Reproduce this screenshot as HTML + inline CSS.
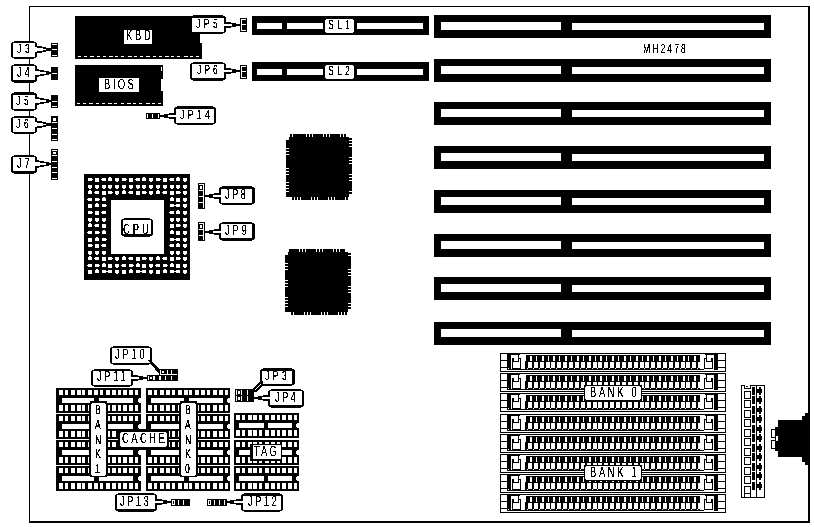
<!DOCTYPE html>
<html><head><meta charset="utf-8"><title>MH2478</title>
<style>
html,body{margin:0;padding:0;background:#fff;}
body{width:814px;height:527px;overflow:hidden;}
svg{display:block;}
text{font-family:"Liberation Sans",sans-serif;text-rendering:geometricPrecision;}
</style></head><body>
<svg width="814" height="527" viewBox="0 0 814 527" shape-rendering="crispEdges">
<defs><filter id="th" x="0" y="0" width="100%" height="100%" filterUnits="userSpaceOnUse" color-interpolation-filters="sRGB"><feComponentTransfer><feFuncA type="discrete" tableValues="0 0 0 0 0 0 0 0 1 1 1 1 1 1 1 1 1 1 1 1"/></feComponentTransfer></filter><filter id="th2" x="0" y="0" width="100%" height="100%" filterUnits="userSpaceOnUse" color-interpolation-filters="sRGB"><feComponentTransfer><feFuncA type="discrete" tableValues="0 0 0 0 0 0 1 1 1 1 1 1 1 1 1 1 1 1 1 1"/></feComponentTransfer></filter></defs>
<rect x="0" y="0" width="814" height="527" fill="#fff"/>
<rect x="29" y="6" width="780" height="1" fill="#000"/>
<rect x="29" y="6" width="1" height="517" fill="#000"/>
<rect x="808" y="6" width="2" height="517" fill="#000"/>
<rect x="29" y="521" width="781" height="2" fill="#000"/>
<rect x="434" y="15" width="337" height="23" fill="#000"/>
<rect x="441" y="22" width="120" height="8" fill="#fff"/>
<rect x="572" y="23" width="192" height="7" fill="#fff"/>
<rect x="434" y="59" width="337" height="23" fill="#000"/>
<rect x="441" y="66" width="120" height="8" fill="#fff"/>
<rect x="572" y="67" width="192" height="7" fill="#fff"/>
<rect x="434" y="102" width="337" height="23" fill="#000"/>
<rect x="441" y="109" width="120" height="8" fill="#fff"/>
<rect x="572" y="110" width="192" height="7" fill="#fff"/>
<rect x="434" y="146" width="337" height="23" fill="#000"/>
<rect x="441" y="153" width="120" height="8" fill="#fff"/>
<rect x="572" y="154" width="192" height="7" fill="#fff"/>
<rect x="434" y="190" width="337" height="23" fill="#000"/>
<rect x="441" y="197" width="120" height="8" fill="#fff"/>
<rect x="572" y="198" width="192" height="7" fill="#fff"/>
<rect x="434" y="234" width="337" height="23" fill="#000"/>
<rect x="441" y="241" width="120" height="8" fill="#fff"/>
<rect x="572" y="242" width="192" height="7" fill="#fff"/>
<rect x="434" y="277" width="337" height="23" fill="#000"/>
<rect x="441" y="284" width="120" height="8" fill="#fff"/>
<rect x="572" y="285" width="192" height="7" fill="#fff"/>
<rect x="434" y="322" width="337" height="23" fill="#000"/>
<rect x="441" y="329" width="120" height="8" fill="#fff"/>
<rect x="572" y="330" width="192" height="7" fill="#fff"/>
<rect x="252" y="16" width="177" height="19" fill="#000"/>
<rect x="257" y="23" width="25" height="6" fill="#fff"/>
<rect x="287" y="23" width="36" height="6" fill="#fff"/>
<rect x="357" y="23" width="66" height="6" fill="#fff"/>
<rect x="326" y="19" width="27" height="14" fill="#fff"/>
<rect x="325" y="20" width="29" height="12" fill="#fff"/>
<rect x="252" y="62" width="177" height="19" fill="#000"/>
<rect x="257" y="69" width="25" height="6" fill="#fff"/>
<rect x="287" y="69" width="36" height="6" fill="#fff"/>
<rect x="357" y="69" width="66" height="6" fill="#fff"/>
<rect x="326" y="65" width="27" height="14" fill="#fff"/>
<rect x="325" y="66" width="29" height="12" fill="#fff"/>
<rect x="75" y="16" width="127" height="43" fill="#000"/>
<rect x="200" y="34" width="2" height="9" fill="#fff"/>
<rect x="78" y="56" width="3" height="1" fill="#fff"/>
<rect x="84" y="56" width="3" height="1" fill="#fff"/>
<rect x="90" y="56" width="4" height="1" fill="#fff"/>
<rect x="97" y="56" width="3" height="1" fill="#fff"/>
<rect x="103" y="56" width="3" height="1" fill="#fff"/>
<rect x="109" y="56" width="4" height="1" fill="#fff"/>
<rect x="115" y="56" width="3" height="1" fill="#fff"/>
<rect x="121" y="56" width="3" height="1" fill="#fff"/>
<rect x="128" y="56" width="4" height="1" fill="#fff"/>
<rect x="134" y="56" width="3" height="1" fill="#fff"/>
<rect x="140" y="56" width="3" height="1" fill="#fff"/>
<rect x="146" y="56" width="4" height="1" fill="#fff"/>
<rect x="153" y="56" width="3" height="1" fill="#fff"/>
<rect x="159" y="56" width="3" height="1" fill="#fff"/>
<rect x="165" y="56" width="4" height="1" fill="#fff"/>
<rect x="171" y="56" width="3" height="1" fill="#fff"/>
<rect x="177" y="56" width="3" height="1" fill="#fff"/>
<rect x="184" y="56" width="4" height="1" fill="#fff"/>
<rect x="190" y="56" width="3" height="1" fill="#fff"/>
<rect x="196" y="56" width="3" height="1" fill="#fff"/>
<rect x="124" y="30" width="28" height="14" fill="#fff"/>
<rect x="75" y="65" width="88" height="41" fill="#000"/>
<rect x="161" y="79" width="2" height="12" fill="#fff"/>
<rect x="161" y="67" width="1" height="4" fill="#fff"/>
<rect x="77" y="103" width="3" height="1" fill="#fff"/>
<rect x="83" y="103" width="3" height="1" fill="#fff"/>
<rect x="89" y="103" width="4" height="1" fill="#fff"/>
<rect x="96" y="103" width="3" height="1" fill="#fff"/>
<rect x="102" y="103" width="3" height="1" fill="#fff"/>
<rect x="108" y="103" width="4" height="1" fill="#fff"/>
<rect x="114" y="103" width="3" height="1" fill="#fff"/>
<rect x="121" y="103" width="3" height="1" fill="#fff"/>
<rect x="127" y="103" width="4" height="1" fill="#fff"/>
<rect x="133" y="103" width="3" height="1" fill="#fff"/>
<rect x="139" y="103" width="3" height="1" fill="#fff"/>
<rect x="146" y="103" width="4" height="1" fill="#fff"/>
<rect x="152" y="103" width="3" height="1" fill="#fff"/>
<rect x="158" y="103" width="3" height="1" fill="#fff"/>
<rect x="99" y="78" width="40" height="14" fill="#fff"/>
<rect x="14" y="41" width="20" height="1" fill="#000"/>
<rect x="12" y="42" width="24" height="1" fill="#000"/>
<rect x="11" y="43" width="26" height="14" fill="#000"/>
<rect x="12" y="57" width="24" height="1" fill="#000"/>
<rect x="14" y="58" width="20" height="1" fill="#000"/>
<rect x="13" y="43" width="22" height="14" fill="#fff"/>
<polygon points="35,45 44,47.025 51,48.5 51,50.5 44,51.975 35,54" fill="#000"/>
<polygon points="34,47 41.2,48.25 46.1,49 46.1,50 41.2,50.75 34,52" fill="#fff"/>
<rect x="14" y="64" width="20" height="1" fill="#000"/>
<rect x="12" y="65" width="24" height="1" fill="#000"/>
<rect x="11" y="66" width="26" height="15" fill="#000"/>
<rect x="12" y="81" width="24" height="1" fill="#000"/>
<rect x="14" y="82" width="20" height="1" fill="#000"/>
<rect x="13" y="66" width="22" height="14" fill="#fff"/>
<polygon points="35,68.5 44,70.525 51,72 51,74 44,75.475 35,77.5" fill="#000"/>
<polygon points="34,70.5 41.2,71.75 46.1,72.5 46.1,73.5 41.2,74.25 34,75.5" fill="#fff"/>
<rect x="14" y="92" width="20" height="1" fill="#000"/>
<rect x="12" y="93" width="24" height="1" fill="#000"/>
<rect x="11" y="94" width="26" height="15" fill="#000"/>
<rect x="12" y="109" width="24" height="1" fill="#000"/>
<rect x="14" y="110" width="20" height="1" fill="#000"/>
<rect x="13" y="95" width="22" height="14" fill="#fff"/>
<polygon points="35,96.5 44,98.525 51,100 51,102 44,103.475 35,105.5" fill="#000"/>
<polygon points="34,98.5 41.2,99.75 46.1,100.5 46.1,101.5 41.2,102.25 34,103.5" fill="#fff"/>
<rect x="14" y="116" width="20" height="1" fill="#000"/>
<rect x="12" y="117" width="24" height="1" fill="#000"/>
<rect x="11" y="118" width="26" height="14" fill="#000"/>
<rect x="12" y="132" width="24" height="1" fill="#000"/>
<rect x="14" y="133" width="20" height="1" fill="#000"/>
<rect x="13" y="118" width="22" height="14" fill="#fff"/>
<polygon points="35,120 44,122.025 51,123.5 51,125.5 44,126.975 35,129" fill="#000"/>
<polygon points="34,122 41.2,123.25 46.1,124 46.1,125 41.2,125.75 34,127" fill="#fff"/>
<rect x="14" y="155" width="20" height="1" fill="#000"/>
<rect x="12" y="156" width="24" height="1" fill="#000"/>
<rect x="11" y="157" width="26" height="15" fill="#000"/>
<rect x="12" y="172" width="24" height="1" fill="#000"/>
<rect x="14" y="173" width="20" height="1" fill="#000"/>
<rect x="13" y="157" width="22" height="14" fill="#fff"/>
<polygon points="35,159.5 44,161.525 51,163 51,165 44,166.475 35,168.5" fill="#000"/>
<polygon points="34,161.5 41.2,162.75 46.1,163.5 46.1,164.5 41.2,165.25 34,166.5" fill="#fff"/>
<rect x="51" y="43" width="7" height="14" fill="#000"/>
<rect x="52" y="44" width="5" height="1" fill="#fff"/>
<rect x="52" y="49" width="5" height="1" fill="#fff"/>
<rect x="52" y="55" width="5" height="1" fill="#fff"/>
<rect x="51" y="67" width="7" height="13" fill="#000"/>
<rect x="52" y="73" width="5" height="1" fill="#fff"/>
<rect x="51" y="95" width="7" height="13" fill="#000"/>
<rect x="52" y="101" width="5" height="1" fill="#fff"/>
<rect x="52" y="106" width="5" height="1" fill="#fff"/>
<rect x="51" y="116" width="7" height="25" fill="#000"/>
<rect x="53" y="118" width="3" height="3" fill="#fff"/>
<rect x="52" y="122" width="5" height="1" fill="#fff"/>
<rect x="52" y="128" width="5" height="1" fill="#fff"/>
<rect x="52" y="134" width="5" height="1" fill="#fff"/>
<rect x="52" y="139" width="5" height="1" fill="#fff"/>
<rect x="51" y="149" width="7" height="31" fill="#000"/>
<rect x="52" y="150" width="5" height="1" fill="#fff"/>
<rect x="53" y="152" width="3" height="2" fill="#fff"/>
<rect x="52" y="155" width="5" height="1" fill="#fff"/>
<rect x="52" y="161" width="5" height="1" fill="#fff"/>
<rect x="52" y="167" width="5" height="1" fill="#fff"/>
<rect x="52" y="172" width="5" height="1" fill="#fff"/>
<rect x="52" y="178" width="5" height="1" fill="#fff"/>
<rect x="193" y="15" width="30" height="1" fill="#000"/>
<rect x="191" y="16" width="34" height="1" fill="#000"/>
<rect x="190" y="17" width="36" height="15" fill="#000"/>
<rect x="191" y="32" width="34" height="1" fill="#000"/>
<rect x="193" y="33" width="30" height="1" fill="#000"/>
<rect x="192" y="18" width="32" height="14" fill="#fff"/>
<polygon points="224,22 230.2,22 231.6,23 235.8,23 236.5,24 240,24 240,26 236.5,26 235.8,27 231.6,27 230.2,28 224,28" fill="#000"/>
<polygon points="223,24 232.3,24 232.3,26 223,26" fill="#fff"/>
<rect x="240" y="18" width="7" height="14" fill="#000"/>
<rect x="241" y="19" width="1" height="12" fill="#fff"/>
<rect x="241" y="19" width="5" height="1" fill="#fff"/>
<rect x="241" y="24" width="5" height="1" fill="#fff"/>
<rect x="241" y="30" width="5" height="1" fill="#fff"/>
<rect x="193" y="62" width="30" height="1" fill="#000"/>
<rect x="191" y="63" width="34" height="1" fill="#000"/>
<rect x="190" y="64" width="36" height="15" fill="#000"/>
<rect x="191" y="79" width="34" height="1" fill="#000"/>
<rect x="193" y="80" width="30" height="1" fill="#000"/>
<rect x="192" y="64" width="32" height="14" fill="#fff"/>
<polygon points="224,68 230.2,68 231.6,69 235.8,69 236.5,70 240,70 240,72 236.5,72 235.8,73 231.6,73 230.2,74 224,74" fill="#000"/>
<polygon points="223,70 232.3,70 232.3,72 223,72" fill="#fff"/>
<rect x="240" y="65" width="7" height="14" fill="#000"/>
<rect x="241" y="66" width="1" height="12" fill="#fff"/>
<rect x="241" y="66" width="5" height="1" fill="#fff"/>
<rect x="241" y="71" width="5" height="1" fill="#fff"/>
<rect x="241" y="77" width="5" height="1" fill="#fff"/>
<rect x="177" y="106" width="36" height="1" fill="#000"/>
<rect x="175" y="107" width="40" height="1" fill="#000"/>
<rect x="174" y="108" width="42" height="15" fill="#000"/>
<rect x="175" y="123" width="40" height="1" fill="#000"/>
<rect x="177" y="124" width="36" height="1" fill="#000"/>
<rect x="176" y="109" width="38" height="14" fill="#fff"/>
<polygon points="176,113 169.8,113 168.4,114 164.2,114 163.5,115 160,115 160,117 163.5,117 164.2,118 168.4,118 169.8,119 176,119" fill="#000"/>
<polygon points="177,115 167.7,115 167.7,117 177,117" fill="#fff"/>
<rect x="146" y="113" width="14" height="6" fill="#000"/>
<rect x="147" y="114" width="1" height="4" fill="#fff"/>
<rect x="152" y="114" width="1" height="4" fill="#fff"/>
<rect x="158" y="114" width="1" height="4" fill="#fff"/>
<rect x="84" y="174" width="106" height="106" fill="#000"/>
<rect x="111" y="200" width="53" height="54" fill="#fff"/>
<rect x="88" y="178" width="4" height="3" fill="#fff"/>
<rect x="92" y="179" width="1" height="1" fill="#fff"/>
<rect x="88" y="185" width="4" height="3" fill="#fff"/>
<rect x="89" y="188" width="2" height="1" fill="#fff"/>
<rect x="88" y="191" width="4" height="3" fill="#fff"/>
<rect x="89" y="190" width="2" height="1" fill="#fff"/>
<rect x="88" y="198" width="4" height="3" fill="#fff"/>
<rect x="87" y="199" width="1" height="1" fill="#fff"/>
<rect x="88" y="204" width="4" height="4" fill="#fff"/>
<rect x="88" y="211" width="4" height="3" fill="#fff"/>
<rect x="92" y="212" width="1" height="1" fill="#fff"/>
<rect x="88" y="218" width="4" height="3" fill="#fff"/>
<rect x="89" y="221" width="2" height="1" fill="#fff"/>
<rect x="88" y="224" width="4" height="3" fill="#fff"/>
<rect x="89" y="223" width="2" height="1" fill="#fff"/>
<rect x="88" y="231" width="4" height="3" fill="#fff"/>
<rect x="87" y="232" width="1" height="1" fill="#fff"/>
<rect x="88" y="238" width="4" height="4" fill="#fff"/>
<rect x="88" y="244" width="4" height="3" fill="#fff"/>
<rect x="92" y="245" width="1" height="1" fill="#fff"/>
<rect x="88" y="251" width="4" height="3" fill="#fff"/>
<rect x="89" y="254" width="2" height="1" fill="#fff"/>
<rect x="88" y="257" width="4" height="3" fill="#fff"/>
<rect x="89" y="256" width="2" height="1" fill="#fff"/>
<rect x="88" y="264" width="4" height="3" fill="#fff"/>
<rect x="87" y="265" width="1" height="1" fill="#fff"/>
<rect x="88" y="270" width="4" height="4" fill="#fff"/>
<rect x="95" y="178" width="4" height="4" fill="#fff"/>
<rect x="95" y="185" width="4" height="3" fill="#fff"/>
<rect x="96" y="188" width="2" height="1" fill="#fff"/>
<rect x="95" y="191" width="4" height="3" fill="#fff"/>
<rect x="94" y="192" width="1" height="1" fill="#fff"/>
<rect x="95" y="198" width="4" height="3" fill="#fff"/>
<rect x="99" y="199" width="1" height="1" fill="#fff"/>
<rect x="95" y="204" width="4" height="3" fill="#fff"/>
<rect x="96" y="203" width="2" height="1" fill="#fff"/>
<rect x="95" y="211" width="4" height="4" fill="#fff"/>
<rect x="95" y="218" width="4" height="3" fill="#fff"/>
<rect x="96" y="221" width="2" height="1" fill="#fff"/>
<rect x="95" y="224" width="4" height="3" fill="#fff"/>
<rect x="94" y="225" width="1" height="1" fill="#fff"/>
<rect x="95" y="231" width="4" height="3" fill="#fff"/>
<rect x="99" y="232" width="1" height="1" fill="#fff"/>
<rect x="95" y="238" width="4" height="3" fill="#fff"/>
<rect x="96" y="237" width="2" height="1" fill="#fff"/>
<rect x="95" y="244" width="4" height="4" fill="#fff"/>
<rect x="95" y="251" width="4" height="3" fill="#fff"/>
<rect x="96" y="254" width="2" height="1" fill="#fff"/>
<rect x="95" y="257" width="4" height="3" fill="#fff"/>
<rect x="94" y="258" width="1" height="1" fill="#fff"/>
<rect x="95" y="264" width="4" height="3" fill="#fff"/>
<rect x="99" y="265" width="1" height="1" fill="#fff"/>
<rect x="95" y="270" width="4" height="3" fill="#fff"/>
<rect x="96" y="269" width="2" height="1" fill="#fff"/>
<rect x="102" y="178" width="4" height="3" fill="#fff"/>
<rect x="101" y="179" width="1" height="1" fill="#fff"/>
<rect x="102" y="185" width="4" height="3" fill="#fff"/>
<rect x="103" y="188" width="2" height="1" fill="#fff"/>
<rect x="102" y="191" width="4" height="4" fill="#fff"/>
<rect x="102" y="198" width="4" height="3" fill="#fff"/>
<rect x="103" y="197" width="2" height="1" fill="#fff"/>
<rect x="102" y="204" width="4" height="3" fill="#fff"/>
<rect x="106" y="205" width="1" height="1" fill="#fff"/>
<rect x="102" y="211" width="4" height="3" fill="#fff"/>
<rect x="101" y="212" width="1" height="1" fill="#fff"/>
<rect x="102" y="218" width="4" height="3" fill="#fff"/>
<rect x="103" y="221" width="2" height="1" fill="#fff"/>
<rect x="102" y="224" width="4" height="4" fill="#fff"/>
<rect x="102" y="231" width="4" height="3" fill="#fff"/>
<rect x="103" y="230" width="2" height="1" fill="#fff"/>
<rect x="102" y="238" width="4" height="3" fill="#fff"/>
<rect x="106" y="239" width="1" height="1" fill="#fff"/>
<rect x="102" y="244" width="4" height="3" fill="#fff"/>
<rect x="101" y="245" width="1" height="1" fill="#fff"/>
<rect x="102" y="251" width="4" height="3" fill="#fff"/>
<rect x="103" y="254" width="2" height="1" fill="#fff"/>
<rect x="102" y="257" width="4" height="4" fill="#fff"/>
<rect x="102" y="264" width="4" height="3" fill="#fff"/>
<rect x="103" y="263" width="2" height="1" fill="#fff"/>
<rect x="102" y="270" width="4" height="3" fill="#fff"/>
<rect x="106" y="271" width="1" height="1" fill="#fff"/>
<rect x="108" y="178" width="4" height="3" fill="#fff"/>
<rect x="109" y="177" width="2" height="1" fill="#fff"/>
<rect x="108" y="185" width="4" height="3" fill="#fff"/>
<rect x="109" y="188" width="2" height="1" fill="#fff"/>
<rect x="108" y="191" width="4" height="3" fill="#fff"/>
<rect x="112" y="192" width="1" height="1" fill="#fff"/>
<rect x="108" y="257" width="4" height="3" fill="#fff"/>
<rect x="112" y="258" width="1" height="1" fill="#fff"/>
<rect x="108" y="264" width="4" height="4" fill="#fff"/>
<rect x="108" y="270" width="4" height="3" fill="#fff"/>
<rect x="107" y="271" width="1" height="1" fill="#fff"/>
<rect x="115" y="178" width="4" height="3" fill="#fff"/>
<rect x="116" y="181" width="2" height="1" fill="#fff"/>
<rect x="115" y="185" width="4" height="3" fill="#fff"/>
<rect x="116" y="188" width="2" height="1" fill="#fff"/>
<rect x="115" y="191" width="4" height="3" fill="#fff"/>
<rect x="116" y="194" width="2" height="1" fill="#fff"/>
<rect x="115" y="257" width="4" height="3" fill="#fff"/>
<rect x="116" y="260" width="2" height="1" fill="#fff"/>
<rect x="115" y="264" width="4" height="3" fill="#fff"/>
<rect x="116" y="267" width="2" height="1" fill="#fff"/>
<rect x="115" y="270" width="4" height="3" fill="#fff"/>
<rect x="116" y="273" width="2" height="1" fill="#fff"/>
<rect x="122" y="178" width="4" height="3" fill="#fff"/>
<rect x="126" y="179" width="1" height="1" fill="#fff"/>
<rect x="122" y="185" width="4" height="3" fill="#fff"/>
<rect x="123" y="188" width="2" height="1" fill="#fff"/>
<rect x="122" y="191" width="4" height="3" fill="#fff"/>
<rect x="123" y="190" width="2" height="1" fill="#fff"/>
<rect x="122" y="257" width="4" height="3" fill="#fff"/>
<rect x="123" y="256" width="2" height="1" fill="#fff"/>
<rect x="122" y="264" width="4" height="3" fill="#fff"/>
<rect x="121" y="265" width="1" height="1" fill="#fff"/>
<rect x="122" y="270" width="4" height="4" fill="#fff"/>
<rect x="129" y="178" width="4" height="4" fill="#fff"/>
<rect x="129" y="185" width="4" height="3" fill="#fff"/>
<rect x="130" y="188" width="2" height="1" fill="#fff"/>
<rect x="129" y="191" width="4" height="3" fill="#fff"/>
<rect x="128" y="192" width="1" height="1" fill="#fff"/>
<rect x="129" y="257" width="4" height="3" fill="#fff"/>
<rect x="128" y="258" width="1" height="1" fill="#fff"/>
<rect x="129" y="264" width="4" height="3" fill="#fff"/>
<rect x="133" y="265" width="1" height="1" fill="#fff"/>
<rect x="129" y="270" width="4" height="3" fill="#fff"/>
<rect x="130" y="269" width="2" height="1" fill="#fff"/>
<rect x="136" y="178" width="4" height="3" fill="#fff"/>
<rect x="135" y="179" width="1" height="1" fill="#fff"/>
<rect x="136" y="185" width="4" height="3" fill="#fff"/>
<rect x="137" y="188" width="2" height="1" fill="#fff"/>
<rect x="136" y="191" width="4" height="4" fill="#fff"/>
<rect x="136" y="257" width="4" height="4" fill="#fff"/>
<rect x="136" y="264" width="4" height="3" fill="#fff"/>
<rect x="137" y="263" width="2" height="1" fill="#fff"/>
<rect x="136" y="270" width="4" height="3" fill="#fff"/>
<rect x="140" y="271" width="1" height="1" fill="#fff"/>
<rect x="142" y="178" width="4" height="3" fill="#fff"/>
<rect x="143" y="177" width="2" height="1" fill="#fff"/>
<rect x="142" y="185" width="4" height="3" fill="#fff"/>
<rect x="143" y="188" width="2" height="1" fill="#fff"/>
<rect x="142" y="191" width="4" height="3" fill="#fff"/>
<rect x="146" y="192" width="1" height="1" fill="#fff"/>
<rect x="142" y="257" width="4" height="3" fill="#fff"/>
<rect x="146" y="258" width="1" height="1" fill="#fff"/>
<rect x="142" y="264" width="4" height="4" fill="#fff"/>
<rect x="142" y="270" width="4" height="3" fill="#fff"/>
<rect x="141" y="271" width="1" height="1" fill="#fff"/>
<rect x="149" y="178" width="4" height="3" fill="#fff"/>
<rect x="150" y="181" width="2" height="1" fill="#fff"/>
<rect x="149" y="185" width="4" height="3" fill="#fff"/>
<rect x="150" y="188" width="2" height="1" fill="#fff"/>
<rect x="149" y="191" width="4" height="3" fill="#fff"/>
<rect x="150" y="194" width="2" height="1" fill="#fff"/>
<rect x="149" y="257" width="4" height="3" fill="#fff"/>
<rect x="150" y="260" width="2" height="1" fill="#fff"/>
<rect x="149" y="264" width="4" height="3" fill="#fff"/>
<rect x="150" y="267" width="2" height="1" fill="#fff"/>
<rect x="149" y="270" width="4" height="3" fill="#fff"/>
<rect x="150" y="273" width="2" height="1" fill="#fff"/>
<rect x="156" y="178" width="4" height="3" fill="#fff"/>
<rect x="160" y="179" width="1" height="1" fill="#fff"/>
<rect x="156" y="185" width="4" height="3" fill="#fff"/>
<rect x="157" y="188" width="2" height="1" fill="#fff"/>
<rect x="156" y="191" width="4" height="3" fill="#fff"/>
<rect x="157" y="190" width="2" height="1" fill="#fff"/>
<rect x="156" y="257" width="4" height="3" fill="#fff"/>
<rect x="157" y="256" width="2" height="1" fill="#fff"/>
<rect x="156" y="264" width="4" height="3" fill="#fff"/>
<rect x="155" y="265" width="1" height="1" fill="#fff"/>
<rect x="156" y="270" width="4" height="4" fill="#fff"/>
<rect x="163" y="178" width="4" height="4" fill="#fff"/>
<rect x="163" y="185" width="4" height="3" fill="#fff"/>
<rect x="164" y="188" width="2" height="1" fill="#fff"/>
<rect x="163" y="191" width="4" height="3" fill="#fff"/>
<rect x="162" y="192" width="1" height="1" fill="#fff"/>
<rect x="163" y="257" width="4" height="3" fill="#fff"/>
<rect x="162" y="258" width="1" height="1" fill="#fff"/>
<rect x="163" y="264" width="4" height="3" fill="#fff"/>
<rect x="167" y="265" width="1" height="1" fill="#fff"/>
<rect x="163" y="270" width="4" height="3" fill="#fff"/>
<rect x="164" y="269" width="2" height="1" fill="#fff"/>
<rect x="170" y="178" width="4" height="3" fill="#fff"/>
<rect x="169" y="179" width="1" height="1" fill="#fff"/>
<rect x="170" y="185" width="4" height="3" fill="#fff"/>
<rect x="171" y="188" width="2" height="1" fill="#fff"/>
<rect x="170" y="191" width="4" height="4" fill="#fff"/>
<rect x="170" y="198" width="4" height="3" fill="#fff"/>
<rect x="171" y="197" width="2" height="1" fill="#fff"/>
<rect x="170" y="204" width="4" height="3" fill="#fff"/>
<rect x="174" y="205" width="1" height="1" fill="#fff"/>
<rect x="170" y="211" width="4" height="3" fill="#fff"/>
<rect x="169" y="212" width="1" height="1" fill="#fff"/>
<rect x="170" y="218" width="4" height="3" fill="#fff"/>
<rect x="171" y="221" width="2" height="1" fill="#fff"/>
<rect x="170" y="224" width="4" height="4" fill="#fff"/>
<rect x="170" y="231" width="4" height="3" fill="#fff"/>
<rect x="171" y="230" width="2" height="1" fill="#fff"/>
<rect x="170" y="238" width="4" height="3" fill="#fff"/>
<rect x="174" y="239" width="1" height="1" fill="#fff"/>
<rect x="170" y="244" width="4" height="3" fill="#fff"/>
<rect x="169" y="245" width="1" height="1" fill="#fff"/>
<rect x="170" y="251" width="4" height="3" fill="#fff"/>
<rect x="171" y="254" width="2" height="1" fill="#fff"/>
<rect x="170" y="257" width="4" height="4" fill="#fff"/>
<rect x="170" y="264" width="4" height="3" fill="#fff"/>
<rect x="171" y="263" width="2" height="1" fill="#fff"/>
<rect x="170" y="270" width="4" height="3" fill="#fff"/>
<rect x="174" y="271" width="1" height="1" fill="#fff"/>
<rect x="176" y="178" width="4" height="3" fill="#fff"/>
<rect x="177" y="177" width="2" height="1" fill="#fff"/>
<rect x="176" y="185" width="4" height="3" fill="#fff"/>
<rect x="177" y="188" width="2" height="1" fill="#fff"/>
<rect x="176" y="191" width="4" height="3" fill="#fff"/>
<rect x="180" y="192" width="1" height="1" fill="#fff"/>
<rect x="176" y="198" width="4" height="4" fill="#fff"/>
<rect x="176" y="204" width="4" height="3" fill="#fff"/>
<rect x="175" y="205" width="1" height="1" fill="#fff"/>
<rect x="176" y="211" width="4" height="3" fill="#fff"/>
<rect x="177" y="210" width="2" height="1" fill="#fff"/>
<rect x="176" y="218" width="4" height="3" fill="#fff"/>
<rect x="177" y="221" width="2" height="1" fill="#fff"/>
<rect x="176" y="224" width="4" height="3" fill="#fff"/>
<rect x="180" y="225" width="1" height="1" fill="#fff"/>
<rect x="176" y="231" width="4" height="4" fill="#fff"/>
<rect x="176" y="238" width="4" height="3" fill="#fff"/>
<rect x="175" y="239" width="1" height="1" fill="#fff"/>
<rect x="176" y="244" width="4" height="3" fill="#fff"/>
<rect x="177" y="243" width="2" height="1" fill="#fff"/>
<rect x="176" y="251" width="4" height="3" fill="#fff"/>
<rect x="177" y="254" width="2" height="1" fill="#fff"/>
<rect x="176" y="257" width="4" height="3" fill="#fff"/>
<rect x="180" y="258" width="1" height="1" fill="#fff"/>
<rect x="176" y="264" width="4" height="4" fill="#fff"/>
<rect x="176" y="270" width="4" height="3" fill="#fff"/>
<rect x="175" y="271" width="1" height="1" fill="#fff"/>
<rect x="183" y="178" width="4" height="3" fill="#fff"/>
<rect x="184" y="181" width="2" height="1" fill="#fff"/>
<rect x="183" y="185" width="4" height="3" fill="#fff"/>
<rect x="184" y="188" width="2" height="1" fill="#fff"/>
<rect x="183" y="191" width="4" height="3" fill="#fff"/>
<rect x="184" y="194" width="2" height="1" fill="#fff"/>
<rect x="183" y="198" width="4" height="3" fill="#fff"/>
<rect x="184" y="201" width="2" height="1" fill="#fff"/>
<rect x="183" y="204" width="4" height="3" fill="#fff"/>
<rect x="184" y="207" width="2" height="1" fill="#fff"/>
<rect x="183" y="211" width="4" height="3" fill="#fff"/>
<rect x="184" y="214" width="2" height="1" fill="#fff"/>
<rect x="183" y="218" width="4" height="3" fill="#fff"/>
<rect x="184" y="221" width="2" height="1" fill="#fff"/>
<rect x="183" y="224" width="4" height="3" fill="#fff"/>
<rect x="184" y="227" width="2" height="1" fill="#fff"/>
<rect x="183" y="231" width="4" height="3" fill="#fff"/>
<rect x="184" y="234" width="2" height="1" fill="#fff"/>
<rect x="183" y="238" width="4" height="3" fill="#fff"/>
<rect x="184" y="241" width="2" height="1" fill="#fff"/>
<rect x="183" y="244" width="4" height="3" fill="#fff"/>
<rect x="184" y="247" width="2" height="1" fill="#fff"/>
<rect x="183" y="251" width="4" height="3" fill="#fff"/>
<rect x="184" y="254" width="2" height="1" fill="#fff"/>
<rect x="183" y="257" width="4" height="3" fill="#fff"/>
<rect x="184" y="260" width="2" height="1" fill="#fff"/>
<rect x="183" y="264" width="4" height="3" fill="#fff"/>
<rect x="184" y="267" width="2" height="1" fill="#fff"/>
<rect x="183" y="270" width="4" height="3" fill="#fff"/>
<rect x="184" y="273" width="2" height="1" fill="#fff"/>
<rect x="124" y="218" width="26" height="1" fill="#000"/>
<rect x="122" y="219" width="30" height="1" fill="#000"/>
<rect x="121" y="220" width="32" height="15" fill="#000"/>
<rect x="122" y="235" width="30" height="1" fill="#000"/>
<rect x="124" y="236" width="26" height="1" fill="#000"/>
<rect x="123" y="220" width="28" height="14" fill="#fff"/>
<rect x="198" y="183" width="7" height="26" fill="#000"/>
<rect x="199" y="184" width="5" height="24" fill="#fff"/>
<rect x="199" y="185" width="4" height="5" fill="#000"/>
<rect x="200" y="186" width="2" height="3" fill="#fff"/>
<rect x="199" y="191" width="4" height="5" fill="#000"/>
<rect x="199" y="197" width="4" height="5" fill="#000"/>
<rect x="199" y="203" width="4" height="5" fill="#000"/>
<rect x="222" y="186" width="30" height="1" fill="#000"/>
<rect x="220" y="187" width="34" height="1" fill="#000"/>
<rect x="219" y="188" width="36" height="15" fill="#000"/>
<rect x="220" y="203" width="34" height="1" fill="#000"/>
<rect x="222" y="204" width="30" height="1" fill="#000"/>
<rect x="221" y="189" width="31" height="14" fill="#fff"/>
<polygon points="221,193 214.8,193 213.4,194 209.2,194 208.5,195 205,195 205,197 208.5,197 209.2,198 213.4,198 214.8,199 221,199" fill="#000"/>
<polygon points="222,195 212.7,195 212.7,197 222,197" fill="#fff"/>
<rect x="198" y="222" width="7" height="19" fill="#000"/>
<rect x="199" y="223" width="5" height="17" fill="#fff"/>
<rect x="199" y="224" width="4" height="5" fill="#000"/>
<rect x="200" y="225" width="2" height="3" fill="#fff"/>
<rect x="199" y="230" width="4" height="5" fill="#000"/>
<rect x="199" y="236" width="4" height="5" fill="#000"/>
<rect x="222" y="222" width="30" height="1" fill="#000"/>
<rect x="220" y="223" width="34" height="1" fill="#000"/>
<rect x="219" y="224" width="36" height="15" fill="#000"/>
<rect x="220" y="239" width="34" height="1" fill="#000"/>
<rect x="222" y="240" width="30" height="1" fill="#000"/>
<rect x="221" y="224" width="31" height="14" fill="#fff"/>
<polygon points="221,229 214.8,229 213.4,230 209.2,230 208.5,231 205,231 205,233 208.5,233 209.2,234 213.4,234 214.8,235 221,235" fill="#000"/>
<polygon points="222,231 212.7,231 212.7,233 222,233" fill="#fff"/>
<rect x="290" y="134" width="56" height="3" fill="#000"/>
<rect x="289" y="137" width="60" height="1" fill="#000"/>
<rect x="289" y="138" width="63" height="2" fill="#000"/>
<rect x="286" y="140" width="66" height="54" fill="#000"/>
<rect x="286" y="194" width="63" height="3" fill="#000"/>
<rect x="292" y="197" width="56" height="3" fill="#000"/>
<rect x="292" y="134" width="1" height="3" fill="#fff"/>
<rect x="306" y="134" width="1" height="3" fill="#fff"/>
<rect x="309" y="134" width="1" height="3" fill="#fff"/>
<rect x="312" y="134" width="1" height="3" fill="#fff"/>
<rect x="323" y="134" width="1" height="3" fill="#fff"/>
<rect x="326" y="134" width="1" height="3" fill="#fff"/>
<rect x="329" y="134" width="1" height="3" fill="#fff"/>
<rect x="340" y="134" width="1" height="3" fill="#fff"/>
<rect x="343" y="134" width="1" height="3" fill="#fff"/>
<rect x="294" y="197" width="1" height="3" fill="#fff"/>
<rect x="297" y="197" width="1" height="3" fill="#fff"/>
<rect x="300" y="197" width="1" height="3" fill="#fff"/>
<rect x="311" y="197" width="1" height="3" fill="#fff"/>
<rect x="314" y="197" width="1" height="3" fill="#fff"/>
<rect x="317" y="197" width="1" height="3" fill="#fff"/>
<rect x="328" y="197" width="1" height="3" fill="#fff"/>
<rect x="331" y="197" width="1" height="3" fill="#fff"/>
<rect x="334" y="197" width="1" height="3" fill="#fff"/>
<rect x="345" y="197" width="1" height="3" fill="#fff"/>
<rect x="286" y="148" width="3" height="1" fill="#fff"/>
<rect x="286" y="151" width="3" height="1" fill="#fff"/>
<rect x="286" y="154" width="3" height="1" fill="#fff"/>
<rect x="286" y="168" width="3" height="1" fill="#fff"/>
<rect x="286" y="171" width="3" height="1" fill="#fff"/>
<rect x="286" y="174" width="3" height="1" fill="#fff"/>
<rect x="286" y="182" width="3" height="1" fill="#fff"/>
<rect x="286" y="185" width="3" height="1" fill="#fff"/>
<rect x="286" y="188" width="3" height="1" fill="#fff"/>
<rect x="286" y="191" width="3" height="1" fill="#fff"/>
<rect x="349" y="140" width="3" height="1" fill="#fff"/>
<rect x="349" y="143" width="3" height="1" fill="#fff"/>
<rect x="349" y="146" width="3" height="1" fill="#fff"/>
<rect x="349" y="157" width="3" height="1" fill="#fff"/>
<rect x="349" y="160" width="3" height="1" fill="#fff"/>
<rect x="349" y="163" width="3" height="1" fill="#fff"/>
<rect x="349" y="174" width="3" height="1" fill="#fff"/>
<rect x="349" y="177" width="3" height="1" fill="#fff"/>
<rect x="349" y="180" width="3" height="1" fill="#fff"/>
<rect x="349" y="191" width="3" height="1" fill="#fff"/>
<rect x="289" y="249" width="56" height="3" fill="#000"/>
<rect x="288" y="252" width="60" height="1" fill="#000"/>
<rect x="288" y="253" width="63" height="2" fill="#000"/>
<rect x="285" y="255" width="66" height="54" fill="#000"/>
<rect x="285" y="309" width="63" height="3" fill="#000"/>
<rect x="291" y="312" width="56" height="3" fill="#000"/>
<rect x="299" y="249" width="1" height="3" fill="#fff"/>
<rect x="302" y="249" width="1" height="3" fill="#fff"/>
<rect x="305" y="249" width="1" height="3" fill="#fff"/>
<rect x="316" y="249" width="1" height="3" fill="#fff"/>
<rect x="319" y="249" width="1" height="3" fill="#fff"/>
<rect x="322" y="249" width="1" height="3" fill="#fff"/>
<rect x="333" y="249" width="1" height="3" fill="#fff"/>
<rect x="336" y="249" width="1" height="3" fill="#fff"/>
<rect x="339" y="249" width="1" height="3" fill="#fff"/>
<rect x="293" y="312" width="1" height="3" fill="#fff"/>
<rect x="304" y="312" width="1" height="3" fill="#fff"/>
<rect x="307" y="312" width="1" height="3" fill="#fff"/>
<rect x="310" y="312" width="1" height="3" fill="#fff"/>
<rect x="321" y="312" width="1" height="3" fill="#fff"/>
<rect x="324" y="312" width="1" height="3" fill="#fff"/>
<rect x="327" y="312" width="1" height="3" fill="#fff"/>
<rect x="338" y="312" width="1" height="3" fill="#fff"/>
<rect x="341" y="312" width="1" height="3" fill="#fff"/>
<rect x="344" y="312" width="1" height="3" fill="#fff"/>
<rect x="285" y="263" width="3" height="1" fill="#fff"/>
<rect x="285" y="266" width="3" height="1" fill="#fff"/>
<rect x="285" y="269" width="3" height="1" fill="#fff"/>
<rect x="285" y="280" width="3" height="1" fill="#fff"/>
<rect x="285" y="283" width="3" height="1" fill="#fff"/>
<rect x="285" y="286" width="3" height="1" fill="#fff"/>
<rect x="285" y="297" width="3" height="1" fill="#fff"/>
<rect x="285" y="300" width="3" height="1" fill="#fff"/>
<rect x="285" y="303" width="3" height="1" fill="#fff"/>
<rect x="285" y="306" width="3" height="1" fill="#fff"/>
<rect x="348" y="255" width="3" height="1" fill="#fff"/>
<rect x="348" y="269" width="3" height="1" fill="#fff"/>
<rect x="348" y="272" width="3" height="1" fill="#fff"/>
<rect x="348" y="275" width="3" height="1" fill="#fff"/>
<rect x="348" y="286" width="3" height="1" fill="#fff"/>
<rect x="348" y="289" width="3" height="1" fill="#fff"/>
<rect x="348" y="292" width="3" height="1" fill="#fff"/>
<rect x="348" y="303" width="3" height="1" fill="#fff"/>
<rect x="348" y="306" width="3" height="1" fill="#fff"/>
<rect x="56" y="388" width="85" height="25" fill="#000"/>
<rect x="59" y="390" width="4" height="5" fill="#fff"/>
<rect x="59" y="405" width="4" height="6" fill="#fff"/>
<rect x="65" y="390" width="3" height="5" fill="#fff"/>
<rect x="65" y="405" width="3" height="6" fill="#fff"/>
<rect x="71" y="390" width="4" height="5" fill="#fff"/>
<rect x="71" y="405" width="4" height="6" fill="#fff"/>
<rect x="77" y="390" width="4" height="5" fill="#fff"/>
<rect x="77" y="405" width="4" height="6" fill="#fff"/>
<rect x="82" y="390" width="3" height="5" fill="#fff"/>
<rect x="82" y="405" width="3" height="6" fill="#fff"/>
<rect x="88" y="390" width="4" height="5" fill="#fff"/>
<rect x="88" y="405" width="4" height="6" fill="#fff"/>
<rect x="94" y="390" width="4" height="5" fill="#fff"/>
<rect x="94" y="405" width="4" height="6" fill="#fff"/>
<rect x="100" y="390" width="3" height="5" fill="#fff"/>
<rect x="100" y="405" width="3" height="6" fill="#fff"/>
<rect x="106" y="390" width="4" height="5" fill="#fff"/>
<rect x="106" y="405" width="4" height="6" fill="#fff"/>
<rect x="112" y="390" width="4" height="5" fill="#fff"/>
<rect x="112" y="405" width="4" height="6" fill="#fff"/>
<rect x="118" y="390" width="3" height="5" fill="#fff"/>
<rect x="118" y="405" width="3" height="6" fill="#fff"/>
<rect x="123" y="390" width="4" height="5" fill="#fff"/>
<rect x="123" y="405" width="4" height="6" fill="#fff"/>
<rect x="129" y="390" width="4" height="5" fill="#fff"/>
<rect x="129" y="405" width="4" height="6" fill="#fff"/>
<rect x="135" y="390" width="3" height="5" fill="#fff"/>
<rect x="135" y="405" width="3" height="6" fill="#fff"/>
<rect x="62" y="398" width="71" height="5" fill="#fff"/>
<rect x="139" y="398" width="2" height="5" fill="#fff"/>
<rect x="138" y="399" width="1" height="3" fill="#fff"/>
<rect x="146" y="388" width="84" height="25" fill="#000"/>
<rect x="148" y="390" width="4" height="5" fill="#fff"/>
<rect x="148" y="405" width="4" height="6" fill="#fff"/>
<rect x="154" y="390" width="3" height="5" fill="#fff"/>
<rect x="154" y="405" width="3" height="6" fill="#fff"/>
<rect x="160" y="390" width="4" height="5" fill="#fff"/>
<rect x="160" y="405" width="4" height="6" fill="#fff"/>
<rect x="166" y="390" width="4" height="5" fill="#fff"/>
<rect x="166" y="405" width="4" height="6" fill="#fff"/>
<rect x="172" y="390" width="3" height="5" fill="#fff"/>
<rect x="172" y="405" width="3" height="6" fill="#fff"/>
<rect x="178" y="390" width="4" height="5" fill="#fff"/>
<rect x="178" y="405" width="4" height="6" fill="#fff"/>
<rect x="184" y="390" width="4" height="5" fill="#fff"/>
<rect x="184" y="405" width="4" height="6" fill="#fff"/>
<rect x="189" y="390" width="3" height="5" fill="#fff"/>
<rect x="189" y="405" width="3" height="6" fill="#fff"/>
<rect x="195" y="390" width="4" height="5" fill="#fff"/>
<rect x="195" y="405" width="4" height="6" fill="#fff"/>
<rect x="201" y="390" width="4" height="5" fill="#fff"/>
<rect x="201" y="405" width="4" height="6" fill="#fff"/>
<rect x="207" y="390" width="3" height="5" fill="#fff"/>
<rect x="207" y="405" width="3" height="6" fill="#fff"/>
<rect x="213" y="390" width="4" height="5" fill="#fff"/>
<rect x="213" y="405" width="4" height="6" fill="#fff"/>
<rect x="219" y="390" width="4" height="5" fill="#fff"/>
<rect x="219" y="405" width="4" height="6" fill="#fff"/>
<rect x="225" y="390" width="3" height="5" fill="#fff"/>
<rect x="225" y="405" width="3" height="6" fill="#fff"/>
<rect x="151" y="398" width="72" height="5" fill="#fff"/>
<rect x="228" y="398" width="2" height="5" fill="#fff"/>
<rect x="227" y="399" width="1" height="3" fill="#fff"/>
<rect x="56" y="414" width="85" height="25" fill="#000"/>
<rect x="59" y="416" width="4" height="5" fill="#fff"/>
<rect x="59" y="431" width="4" height="6" fill="#fff"/>
<rect x="65" y="416" width="3" height="5" fill="#fff"/>
<rect x="65" y="431" width="3" height="6" fill="#fff"/>
<rect x="71" y="416" width="4" height="5" fill="#fff"/>
<rect x="71" y="431" width="4" height="6" fill="#fff"/>
<rect x="77" y="416" width="4" height="5" fill="#fff"/>
<rect x="77" y="431" width="4" height="6" fill="#fff"/>
<rect x="82" y="416" width="3" height="5" fill="#fff"/>
<rect x="82" y="431" width="3" height="6" fill="#fff"/>
<rect x="88" y="416" width="4" height="5" fill="#fff"/>
<rect x="88" y="431" width="4" height="6" fill="#fff"/>
<rect x="94" y="416" width="4" height="5" fill="#fff"/>
<rect x="94" y="431" width="4" height="6" fill="#fff"/>
<rect x="100" y="416" width="3" height="5" fill="#fff"/>
<rect x="100" y="431" width="3" height="6" fill="#fff"/>
<rect x="106" y="416" width="4" height="5" fill="#fff"/>
<rect x="106" y="431" width="4" height="6" fill="#fff"/>
<rect x="112" y="416" width="4" height="5" fill="#fff"/>
<rect x="112" y="431" width="4" height="6" fill="#fff"/>
<rect x="118" y="416" width="3" height="5" fill="#fff"/>
<rect x="118" y="431" width="3" height="6" fill="#fff"/>
<rect x="123" y="416" width="4" height="5" fill="#fff"/>
<rect x="123" y="431" width="4" height="6" fill="#fff"/>
<rect x="129" y="416" width="4" height="5" fill="#fff"/>
<rect x="129" y="431" width="4" height="6" fill="#fff"/>
<rect x="135" y="416" width="3" height="5" fill="#fff"/>
<rect x="135" y="431" width="3" height="6" fill="#fff"/>
<rect x="62" y="424" width="71" height="5" fill="#fff"/>
<rect x="139" y="424" width="2" height="5" fill="#fff"/>
<rect x="138" y="425" width="1" height="3" fill="#fff"/>
<rect x="146" y="414" width="84" height="25" fill="#000"/>
<rect x="148" y="416" width="4" height="5" fill="#fff"/>
<rect x="148" y="431" width="4" height="6" fill="#fff"/>
<rect x="154" y="416" width="3" height="5" fill="#fff"/>
<rect x="154" y="431" width="3" height="6" fill="#fff"/>
<rect x="160" y="416" width="4" height="5" fill="#fff"/>
<rect x="160" y="431" width="4" height="6" fill="#fff"/>
<rect x="166" y="416" width="4" height="5" fill="#fff"/>
<rect x="166" y="431" width="4" height="6" fill="#fff"/>
<rect x="172" y="416" width="3" height="5" fill="#fff"/>
<rect x="172" y="431" width="3" height="6" fill="#fff"/>
<rect x="178" y="416" width="4" height="5" fill="#fff"/>
<rect x="178" y="431" width="4" height="6" fill="#fff"/>
<rect x="184" y="416" width="4" height="5" fill="#fff"/>
<rect x="184" y="431" width="4" height="6" fill="#fff"/>
<rect x="189" y="416" width="3" height="5" fill="#fff"/>
<rect x="189" y="431" width="3" height="6" fill="#fff"/>
<rect x="195" y="416" width="4" height="5" fill="#fff"/>
<rect x="195" y="431" width="4" height="6" fill="#fff"/>
<rect x="201" y="416" width="4" height="5" fill="#fff"/>
<rect x="201" y="431" width="4" height="6" fill="#fff"/>
<rect x="207" y="416" width="3" height="5" fill="#fff"/>
<rect x="207" y="431" width="3" height="6" fill="#fff"/>
<rect x="213" y="416" width="4" height="5" fill="#fff"/>
<rect x="213" y="431" width="4" height="6" fill="#fff"/>
<rect x="219" y="416" width="4" height="5" fill="#fff"/>
<rect x="219" y="431" width="4" height="6" fill="#fff"/>
<rect x="225" y="416" width="3" height="5" fill="#fff"/>
<rect x="225" y="431" width="3" height="6" fill="#fff"/>
<rect x="151" y="424" width="72" height="5" fill="#fff"/>
<rect x="228" y="424" width="2" height="5" fill="#fff"/>
<rect x="227" y="425" width="1" height="3" fill="#fff"/>
<rect x="56" y="440" width="85" height="25" fill="#000"/>
<rect x="59" y="442" width="4" height="5" fill="#fff"/>
<rect x="59" y="457" width="4" height="6" fill="#fff"/>
<rect x="65" y="442" width="3" height="5" fill="#fff"/>
<rect x="65" y="457" width="3" height="6" fill="#fff"/>
<rect x="71" y="442" width="4" height="5" fill="#fff"/>
<rect x="71" y="457" width="4" height="6" fill="#fff"/>
<rect x="77" y="442" width="4" height="5" fill="#fff"/>
<rect x="77" y="457" width="4" height="6" fill="#fff"/>
<rect x="82" y="442" width="3" height="5" fill="#fff"/>
<rect x="82" y="457" width="3" height="6" fill="#fff"/>
<rect x="88" y="442" width="4" height="5" fill="#fff"/>
<rect x="88" y="457" width="4" height="6" fill="#fff"/>
<rect x="94" y="442" width="4" height="5" fill="#fff"/>
<rect x="94" y="457" width="4" height="6" fill="#fff"/>
<rect x="100" y="442" width="3" height="5" fill="#fff"/>
<rect x="100" y="457" width="3" height="6" fill="#fff"/>
<rect x="106" y="442" width="4" height="5" fill="#fff"/>
<rect x="106" y="457" width="4" height="6" fill="#fff"/>
<rect x="112" y="442" width="4" height="5" fill="#fff"/>
<rect x="112" y="457" width="4" height="6" fill="#fff"/>
<rect x="118" y="442" width="3" height="5" fill="#fff"/>
<rect x="118" y="457" width="3" height="6" fill="#fff"/>
<rect x="123" y="442" width="4" height="5" fill="#fff"/>
<rect x="123" y="457" width="4" height="6" fill="#fff"/>
<rect x="129" y="442" width="4" height="5" fill="#fff"/>
<rect x="129" y="457" width="4" height="6" fill="#fff"/>
<rect x="135" y="442" width="3" height="5" fill="#fff"/>
<rect x="135" y="457" width="3" height="6" fill="#fff"/>
<rect x="62" y="450" width="71" height="5" fill="#fff"/>
<rect x="139" y="450" width="2" height="5" fill="#fff"/>
<rect x="138" y="451" width="1" height="3" fill="#fff"/>
<rect x="146" y="440" width="84" height="25" fill="#000"/>
<rect x="148" y="442" width="4" height="5" fill="#fff"/>
<rect x="148" y="457" width="4" height="6" fill="#fff"/>
<rect x="154" y="442" width="3" height="5" fill="#fff"/>
<rect x="154" y="457" width="3" height="6" fill="#fff"/>
<rect x="160" y="442" width="4" height="5" fill="#fff"/>
<rect x="160" y="457" width="4" height="6" fill="#fff"/>
<rect x="166" y="442" width="4" height="5" fill="#fff"/>
<rect x="166" y="457" width="4" height="6" fill="#fff"/>
<rect x="172" y="442" width="3" height="5" fill="#fff"/>
<rect x="172" y="457" width="3" height="6" fill="#fff"/>
<rect x="178" y="442" width="4" height="5" fill="#fff"/>
<rect x="178" y="457" width="4" height="6" fill="#fff"/>
<rect x="184" y="442" width="4" height="5" fill="#fff"/>
<rect x="184" y="457" width="4" height="6" fill="#fff"/>
<rect x="189" y="442" width="3" height="5" fill="#fff"/>
<rect x="189" y="457" width="3" height="6" fill="#fff"/>
<rect x="195" y="442" width="4" height="5" fill="#fff"/>
<rect x="195" y="457" width="4" height="6" fill="#fff"/>
<rect x="201" y="442" width="4" height="5" fill="#fff"/>
<rect x="201" y="457" width="4" height="6" fill="#fff"/>
<rect x="207" y="442" width="3" height="5" fill="#fff"/>
<rect x="207" y="457" width="3" height="6" fill="#fff"/>
<rect x="213" y="442" width="4" height="5" fill="#fff"/>
<rect x="213" y="457" width="4" height="6" fill="#fff"/>
<rect x="219" y="442" width="4" height="5" fill="#fff"/>
<rect x="219" y="457" width="4" height="6" fill="#fff"/>
<rect x="225" y="442" width="3" height="5" fill="#fff"/>
<rect x="225" y="457" width="3" height="6" fill="#fff"/>
<rect x="151" y="450" width="72" height="5" fill="#fff"/>
<rect x="228" y="450" width="2" height="5" fill="#fff"/>
<rect x="227" y="451" width="1" height="3" fill="#fff"/>
<rect x="56" y="466" width="85" height="25" fill="#000"/>
<rect x="59" y="468" width="4" height="5" fill="#fff"/>
<rect x="59" y="483" width="4" height="6" fill="#fff"/>
<rect x="65" y="468" width="3" height="5" fill="#fff"/>
<rect x="65" y="483" width="3" height="6" fill="#fff"/>
<rect x="71" y="468" width="4" height="5" fill="#fff"/>
<rect x="71" y="483" width="4" height="6" fill="#fff"/>
<rect x="77" y="468" width="4" height="5" fill="#fff"/>
<rect x="77" y="483" width="4" height="6" fill="#fff"/>
<rect x="82" y="468" width="3" height="5" fill="#fff"/>
<rect x="82" y="483" width="3" height="6" fill="#fff"/>
<rect x="88" y="468" width="4" height="5" fill="#fff"/>
<rect x="88" y="483" width="4" height="6" fill="#fff"/>
<rect x="94" y="468" width="4" height="5" fill="#fff"/>
<rect x="94" y="483" width="4" height="6" fill="#fff"/>
<rect x="100" y="468" width="3" height="5" fill="#fff"/>
<rect x="100" y="483" width="3" height="6" fill="#fff"/>
<rect x="106" y="468" width="4" height="5" fill="#fff"/>
<rect x="106" y="483" width="4" height="6" fill="#fff"/>
<rect x="112" y="468" width="4" height="5" fill="#fff"/>
<rect x="112" y="483" width="4" height="6" fill="#fff"/>
<rect x="118" y="468" width="3" height="5" fill="#fff"/>
<rect x="118" y="483" width="3" height="6" fill="#fff"/>
<rect x="123" y="468" width="4" height="5" fill="#fff"/>
<rect x="123" y="483" width="4" height="6" fill="#fff"/>
<rect x="129" y="468" width="4" height="5" fill="#fff"/>
<rect x="129" y="483" width="4" height="6" fill="#fff"/>
<rect x="135" y="468" width="3" height="5" fill="#fff"/>
<rect x="135" y="483" width="3" height="6" fill="#fff"/>
<rect x="62" y="476" width="71" height="5" fill="#fff"/>
<rect x="139" y="476" width="2" height="5" fill="#fff"/>
<rect x="138" y="477" width="1" height="3" fill="#fff"/>
<rect x="146" y="466" width="84" height="25" fill="#000"/>
<rect x="148" y="468" width="4" height="5" fill="#fff"/>
<rect x="148" y="483" width="4" height="6" fill="#fff"/>
<rect x="154" y="468" width="3" height="5" fill="#fff"/>
<rect x="154" y="483" width="3" height="6" fill="#fff"/>
<rect x="160" y="468" width="4" height="5" fill="#fff"/>
<rect x="160" y="483" width="4" height="6" fill="#fff"/>
<rect x="166" y="468" width="4" height="5" fill="#fff"/>
<rect x="166" y="483" width="4" height="6" fill="#fff"/>
<rect x="172" y="468" width="3" height="5" fill="#fff"/>
<rect x="172" y="483" width="3" height="6" fill="#fff"/>
<rect x="178" y="468" width="4" height="5" fill="#fff"/>
<rect x="178" y="483" width="4" height="6" fill="#fff"/>
<rect x="184" y="468" width="4" height="5" fill="#fff"/>
<rect x="184" y="483" width="4" height="6" fill="#fff"/>
<rect x="189" y="468" width="3" height="5" fill="#fff"/>
<rect x="189" y="483" width="3" height="6" fill="#fff"/>
<rect x="195" y="468" width="4" height="5" fill="#fff"/>
<rect x="195" y="483" width="4" height="6" fill="#fff"/>
<rect x="201" y="468" width="4" height="5" fill="#fff"/>
<rect x="201" y="483" width="4" height="6" fill="#fff"/>
<rect x="207" y="468" width="3" height="5" fill="#fff"/>
<rect x="207" y="483" width="3" height="6" fill="#fff"/>
<rect x="213" y="468" width="4" height="5" fill="#fff"/>
<rect x="213" y="483" width="4" height="6" fill="#fff"/>
<rect x="219" y="468" width="4" height="5" fill="#fff"/>
<rect x="219" y="483" width="4" height="6" fill="#fff"/>
<rect x="225" y="468" width="3" height="5" fill="#fff"/>
<rect x="225" y="483" width="3" height="6" fill="#fff"/>
<rect x="151" y="476" width="72" height="5" fill="#fff"/>
<rect x="228" y="476" width="2" height="5" fill="#fff"/>
<rect x="227" y="477" width="1" height="3" fill="#fff"/>
<rect x="234" y="413" width="65" height="25" fill="#000"/>
<rect x="236" y="415" width="4" height="5" fill="#fff"/>
<rect x="236" y="430" width="4" height="6" fill="#fff"/>
<rect x="242" y="415" width="3" height="5" fill="#fff"/>
<rect x="242" y="430" width="3" height="6" fill="#fff"/>
<rect x="248" y="415" width="4" height="5" fill="#fff"/>
<rect x="248" y="430" width="4" height="6" fill="#fff"/>
<rect x="253" y="415" width="4" height="5" fill="#fff"/>
<rect x="253" y="430" width="4" height="6" fill="#fff"/>
<rect x="259" y="415" width="3" height="5" fill="#fff"/>
<rect x="259" y="430" width="3" height="6" fill="#fff"/>
<rect x="265" y="415" width="4" height="5" fill="#fff"/>
<rect x="265" y="430" width="4" height="6" fill="#fff"/>
<rect x="271" y="415" width="4" height="5" fill="#fff"/>
<rect x="271" y="430" width="4" height="6" fill="#fff"/>
<rect x="277" y="415" width="3" height="5" fill="#fff"/>
<rect x="277" y="430" width="3" height="6" fill="#fff"/>
<rect x="282" y="415" width="4" height="5" fill="#fff"/>
<rect x="282" y="430" width="4" height="6" fill="#fff"/>
<rect x="288" y="415" width="4" height="5" fill="#fff"/>
<rect x="288" y="430" width="4" height="6" fill="#fff"/>
<rect x="294" y="415" width="3" height="5" fill="#fff"/>
<rect x="294" y="430" width="3" height="6" fill="#fff"/>
<rect x="239" y="423" width="53" height="5" fill="#fff"/>
<rect x="264" y="423" width="4" height="5" fill="#000"/>
<rect x="297" y="423" width="2" height="5" fill="#fff"/>
<rect x="296" y="424" width="1" height="3" fill="#fff"/>
<rect x="234" y="440" width="65" height="25" fill="#000"/>
<rect x="236" y="442" width="4" height="5" fill="#fff"/>
<rect x="236" y="457" width="4" height="6" fill="#fff"/>
<rect x="242" y="442" width="3" height="5" fill="#fff"/>
<rect x="242" y="457" width="3" height="6" fill="#fff"/>
<rect x="248" y="442" width="4" height="5" fill="#fff"/>
<rect x="248" y="457" width="4" height="6" fill="#fff"/>
<rect x="253" y="442" width="4" height="5" fill="#fff"/>
<rect x="253" y="457" width="4" height="6" fill="#fff"/>
<rect x="259" y="442" width="3" height="5" fill="#fff"/>
<rect x="259" y="457" width="3" height="6" fill="#fff"/>
<rect x="265" y="442" width="4" height="5" fill="#fff"/>
<rect x="265" y="457" width="4" height="6" fill="#fff"/>
<rect x="271" y="442" width="4" height="5" fill="#fff"/>
<rect x="271" y="457" width="4" height="6" fill="#fff"/>
<rect x="277" y="442" width="3" height="5" fill="#fff"/>
<rect x="277" y="457" width="3" height="6" fill="#fff"/>
<rect x="282" y="442" width="4" height="5" fill="#fff"/>
<rect x="282" y="457" width="4" height="6" fill="#fff"/>
<rect x="288" y="442" width="4" height="5" fill="#fff"/>
<rect x="288" y="457" width="4" height="6" fill="#fff"/>
<rect x="294" y="442" width="3" height="5" fill="#fff"/>
<rect x="294" y="457" width="3" height="6" fill="#fff"/>
<rect x="239" y="450" width="53" height="5" fill="#fff"/>
<rect x="264" y="450" width="4" height="5" fill="#000"/>
<rect x="297" y="450" width="2" height="5" fill="#fff"/>
<rect x="296" y="451" width="1" height="3" fill="#fff"/>
<rect x="234" y="466" width="65" height="25" fill="#000"/>
<rect x="236" y="468" width="4" height="5" fill="#fff"/>
<rect x="236" y="483" width="4" height="6" fill="#fff"/>
<rect x="242" y="468" width="3" height="5" fill="#fff"/>
<rect x="242" y="483" width="3" height="6" fill="#fff"/>
<rect x="248" y="468" width="4" height="5" fill="#fff"/>
<rect x="248" y="483" width="4" height="6" fill="#fff"/>
<rect x="253" y="468" width="4" height="5" fill="#fff"/>
<rect x="253" y="483" width="4" height="6" fill="#fff"/>
<rect x="259" y="468" width="3" height="5" fill="#fff"/>
<rect x="259" y="483" width="3" height="6" fill="#fff"/>
<rect x="265" y="468" width="4" height="5" fill="#fff"/>
<rect x="265" y="483" width="4" height="6" fill="#fff"/>
<rect x="271" y="468" width="4" height="5" fill="#fff"/>
<rect x="271" y="483" width="4" height="6" fill="#fff"/>
<rect x="277" y="468" width="3" height="5" fill="#fff"/>
<rect x="277" y="483" width="3" height="6" fill="#fff"/>
<rect x="282" y="468" width="4" height="5" fill="#fff"/>
<rect x="282" y="483" width="4" height="6" fill="#fff"/>
<rect x="288" y="468" width="4" height="5" fill="#fff"/>
<rect x="288" y="483" width="4" height="6" fill="#fff"/>
<rect x="294" y="468" width="3" height="5" fill="#fff"/>
<rect x="294" y="483" width="3" height="6" fill="#fff"/>
<rect x="239" y="476" width="53" height="5" fill="#fff"/>
<rect x="264" y="476" width="4" height="5" fill="#000"/>
<rect x="297" y="476" width="2" height="5" fill="#fff"/>
<rect x="296" y="477" width="1" height="3" fill="#fff"/>
<rect x="90" y="401" width="17" height="76" fill="#000"/>
<rect x="89" y="403" width="19" height="72" fill="#000"/>
<rect x="92" y="403" width="13" height="73" fill="#fff"/>
<rect x="91" y="404" width="15" height="71" fill="#fff"/>
<rect x="94" y="397" width="5" height="4" fill="#000"/>
<rect x="94" y="477" width="5" height="4" fill="#000"/>
<rect x="180" y="401" width="17" height="76" fill="#000"/>
<rect x="179" y="403" width="19" height="72" fill="#000"/>
<rect x="182" y="403" width="13" height="73" fill="#fff"/>
<rect x="181" y="404" width="15" height="71" fill="#fff"/>
<rect x="184" y="397" width="5" height="4" fill="#000"/>
<rect x="184" y="477" width="5" height="4" fill="#000"/>
<rect x="118" y="429" width="51" height="21" fill="#000"/>
<rect x="121" y="432" width="45" height="15" fill="#fff"/>
<rect x="120" y="433" width="47" height="13" fill="#fff"/>
<rect x="250" y="444" width="32" height="17" fill="#000"/>
<rect x="253" y="445" width="28" height="14" fill="#fff"/>
<rect x="159" y="369" width="19" height="6" fill="#000"/>
<rect x="160" y="370" width="1" height="4" fill="#fff"/>
<rect x="160" y="374" width="17" height="1" fill="#fff"/>
<rect x="167" y="370" width="1" height="4" fill="#fff"/>
<rect x="171" y="370" width="1" height="4" fill="#fff"/>
<rect x="162" y="371" width="2" height="2" fill="#fff"/>
<rect x="147" y="375" width="31" height="6" fill="#000"/>
<rect x="148" y="376" width="1" height="4" fill="#fff"/>
<rect x="150" y="377" width="2" height="2" fill="#fff"/>
<rect x="153" y="376" width="2" height="4" fill="#fff"/>
<rect x="159" y="376" width="2" height="4" fill="#fff"/>
<rect x="165" y="376" width="1" height="4" fill="#fff"/>
<rect x="171" y="376" width="1" height="4" fill="#fff"/>
<rect x="113" y="346" width="36" height="1" fill="#000"/>
<rect x="111" y="347" width="40" height="1" fill="#000"/>
<rect x="110" y="348" width="42" height="15" fill="#000"/>
<rect x="111" y="363" width="40" height="1" fill="#000"/>
<rect x="113" y="364" width="36" height="1" fill="#000"/>
<rect x="112" y="348" width="38" height="15" fill="#fff"/>
<polygon points="148,360 151,360 160,370 160,373 158,373" fill="#000"/>
<rect x="94" y="369" width="36" height="1" fill="#000"/>
<rect x="92" y="370" width="40" height="1" fill="#000"/>
<rect x="91" y="371" width="42" height="14" fill="#000"/>
<rect x="92" y="385" width="40" height="1" fill="#000"/>
<rect x="94" y="386" width="36" height="1" fill="#000"/>
<rect x="93" y="371" width="38" height="14" fill="#fff"/>
<polygon points="131,375 137.2,375 138.6,376 142.8,376 143.5,377 147,377 147,379 143.5,379 142.8,380 138.6,380 137.2,381 131,381" fill="#000"/>
<polygon points="130,377 139.3,377 139.3,379 130,379" fill="#fff"/>
<rect x="235" y="389" width="19" height="13" fill="#000"/>
<rect x="236" y="390" width="1" height="5" fill="#fff"/>
<rect x="238" y="391" width="2" height="3" fill="#fff"/>
<rect x="241" y="390" width="1" height="5" fill="#fff"/>
<rect x="247" y="390" width="1" height="5" fill="#fff"/>
<rect x="236" y="396" width="1" height="5" fill="#fff"/>
<rect x="238" y="397" width="2" height="3" fill="#fff"/>
<rect x="241" y="396" width="1" height="5" fill="#fff"/>
<rect x="247" y="396" width="1" height="5" fill="#fff"/>
<rect x="263" y="368" width="29" height="1" fill="#000"/>
<rect x="261" y="369" width="33" height="1" fill="#000"/>
<rect x="260" y="370" width="35" height="14" fill="#000"/>
<rect x="261" y="384" width="33" height="1" fill="#000"/>
<rect x="263" y="385" width="29" height="1" fill="#000"/>
<rect x="262" y="371" width="30" height="13" fill="#fff"/>
<polygon points="253,389 260,381 263,381 263,385 256,392 253,392" fill="#000"/>
<polygon points="255,389.5 261,383.5 261.8,384.2 255.8,390.2" fill="#fff"/>
<rect x="271" y="389" width="30" height="1" fill="#000"/>
<rect x="269" y="390" width="34" height="1" fill="#000"/>
<rect x="268" y="391" width="36" height="15" fill="#000"/>
<rect x="269" y="406" width="34" height="1" fill="#000"/>
<rect x="271" y="407" width="30" height="1" fill="#000"/>
<rect x="270" y="391" width="32" height="14" fill="#fff"/>
<polygon points="270,395 263.8,395 262.4,396 258.2,396 257.5,397 254,397 254,399 257.5,399 258.2,400 262.4,400 263.8,401 270,401" fill="#000"/>
<polygon points="271,397 261.7,397 261.7,399 271,399" fill="#fff"/>
<rect x="118" y="493" width="36" height="1" fill="#000"/>
<rect x="116" y="494" width="40" height="1" fill="#000"/>
<rect x="115" y="495" width="42" height="15" fill="#000"/>
<rect x="116" y="510" width="40" height="1" fill="#000"/>
<rect x="118" y="511" width="36" height="1" fill="#000"/>
<rect x="117" y="495" width="38" height="14" fill="#fff"/>
<polygon points="155,499 161.2,499 162.6,500 166.8,500 167.5,501 171,501 171,503 167.5,503 166.8,504 162.6,504 161.2,505 155,505" fill="#000"/>
<polygon points="154,501 163.3,501 163.3,503 154,503" fill="#fff"/>
<rect x="171" y="499" width="19" height="7" fill="#000"/>
<rect x="172" y="500" width="3" height="5" fill="#fff"/>
<rect x="173" y="501" width="1" height="3" fill="#000"/>
<rect x="178" y="500" width="1" height="5" fill="#fff"/>
<rect x="183" y="500" width="1" height="5" fill="#fff"/>
<rect x="244" y="493" width="36" height="1" fill="#000"/>
<rect x="242" y="494" width="40" height="1" fill="#000"/>
<rect x="241" y="495" width="42" height="15" fill="#000"/>
<rect x="242" y="510" width="40" height="1" fill="#000"/>
<rect x="244" y="511" width="36" height="1" fill="#000"/>
<rect x="243" y="496" width="38" height="14" fill="#fff"/>
<polygon points="243,499 236.5,499 235,500 230.5,500 229.75,501 226,501 226,503 229.75,503 230.5,504 235,504 236.5,505 243,505" fill="#000"/>
<polygon points="244,501 234.25,501 234.25,503 244,503" fill="#fff"/>
<rect x="207" y="499" width="20" height="7" fill="#000"/>
<rect x="208" y="500" width="3" height="5" fill="#fff"/>
<rect x="209" y="501" width="1" height="3" fill="#000"/>
<rect x="214" y="500" width="1" height="5" fill="#fff"/>
<rect x="219" y="500" width="1" height="5" fill="#fff"/>
<rect x="224" y="500" width="1" height="5" fill="#fff"/>
<rect x="500" y="353" width="226" height="1" fill="#000"/>
<rect x="500" y="371" width="226" height="1" fill="#000"/>
<rect x="500" y="353" width="1" height="19" fill="#000"/>
<rect x="725" y="353" width="1" height="19" fill="#000"/>
<rect x="718" y="360" width="7" height="1" fill="#000"/>
<rect x="718" y="367" width="7" height="1" fill="#000"/>
<rect x="501" y="360" width="6" height="1" fill="#000"/>
<rect x="501" y="367" width="6" height="1" fill="#000"/>
<rect x="507" y="354" width="4" height="16" fill="#000"/>
<rect x="508" y="368" width="1" height="1" fill="#fff"/>
<rect x="507" y="354" width="13" height="1" fill="#000"/>
<rect x="518" y="354" width="1" height="8" fill="#000"/>
<rect x="512" y="358" width="2" height="1" fill="#000"/>
<rect x="518" y="358" width="3" height="1" fill="#000"/>
<rect x="513" y="358" width="1" height="4" fill="#000"/>
<rect x="513" y="361" width="6" height="1" fill="#000"/>
<rect x="512" y="358" width="1" height="11" fill="#000"/>
<rect x="520" y="358" width="1" height="11" fill="#000"/>
<rect x="512" y="368" width="9" height="1" fill="#000"/>
<rect x="718" y="360" width="6" height="1" fill="#000"/>
<rect x="718" y="367" width="6" height="1" fill="#000"/>
<rect x="714" y="354" width="4" height="16" fill="#000"/>
<rect x="705" y="354" width="13" height="1" fill="#000"/>
<rect x="706" y="354" width="1" height="8" fill="#000"/>
<rect x="711" y="358" width="2" height="1" fill="#000"/>
<rect x="704" y="358" width="3" height="1" fill="#000"/>
<rect x="711" y="358" width="1" height="4" fill="#000"/>
<rect x="706" y="361" width="6" height="1" fill="#000"/>
<rect x="712" y="358" width="1" height="11" fill="#000"/>
<rect x="704" y="358" width="1" height="11" fill="#000"/>
<rect x="704" y="368" width="9" height="1" fill="#000"/>
<rect x="508" y="369" width="196" height="1" fill="#000"/>
<rect x="526" y="355" width="174" height="15" fill="#000"/>
<rect x="525" y="361" width="175" height="9" fill="#000"/>
<rect x="530" y="356" width="2" height="5" fill="#fff"/>
<rect x="528" y="362" width="4" height="6" fill="#fff"/>
<rect x="527" y="368" width="1" height="1" fill="#fff"/>
<rect x="536" y="356" width="1" height="5" fill="#fff"/>
<rect x="534" y="362" width="4" height="6" fill="#fff"/>
<rect x="533" y="368" width="1" height="1" fill="#fff"/>
<rect x="542" y="356" width="2" height="5" fill="#fff"/>
<rect x="540" y="362" width="4" height="6" fill="#fff"/>
<rect x="539" y="368" width="1" height="1" fill="#fff"/>
<rect x="548" y="356" width="1" height="5" fill="#fff"/>
<rect x="546" y="362" width="4" height="6" fill="#fff"/>
<rect x="545" y="368" width="1" height="1" fill="#fff"/>
<rect x="553" y="356" width="2" height="5" fill="#fff"/>
<rect x="551" y="362" width="4" height="6" fill="#fff"/>
<rect x="550" y="368" width="1" height="1" fill="#fff"/>
<rect x="559" y="356" width="1" height="5" fill="#fff"/>
<rect x="557" y="362" width="4" height="6" fill="#fff"/>
<rect x="556" y="368" width="1" height="1" fill="#fff"/>
<rect x="565" y="356" width="2" height="5" fill="#fff"/>
<rect x="563" y="362" width="4" height="6" fill="#fff"/>
<rect x="562" y="368" width="1" height="1" fill="#fff"/>
<rect x="571" y="356" width="1" height="5" fill="#fff"/>
<rect x="569" y="362" width="4" height="6" fill="#fff"/>
<rect x="568" y="368" width="1" height="1" fill="#fff"/>
<rect x="577" y="356" width="2" height="5" fill="#fff"/>
<rect x="575" y="362" width="4" height="6" fill="#fff"/>
<rect x="574" y="368" width="1" height="1" fill="#fff"/>
<rect x="583" y="356" width="1" height="5" fill="#fff"/>
<rect x="581" y="362" width="4" height="6" fill="#fff"/>
<rect x="580" y="368" width="1" height="1" fill="#fff"/>
<rect x="589" y="356" width="2" height="5" fill="#fff"/>
<rect x="587" y="362" width="4" height="6" fill="#fff"/>
<rect x="586" y="368" width="1" height="1" fill="#fff"/>
<rect x="595" y="356" width="1" height="5" fill="#fff"/>
<rect x="593" y="362" width="4" height="6" fill="#fff"/>
<rect x="592" y="368" width="1" height="1" fill="#fff"/>
<rect x="600" y="356" width="2" height="5" fill="#fff"/>
<rect x="598" y="362" width="4" height="6" fill="#fff"/>
<rect x="597" y="368" width="1" height="1" fill="#fff"/>
<rect x="606" y="356" width="1" height="5" fill="#fff"/>
<rect x="604" y="362" width="4" height="6" fill="#fff"/>
<rect x="603" y="368" width="1" height="1" fill="#fff"/>
<rect x="612" y="356" width="2" height="5" fill="#fff"/>
<rect x="610" y="362" width="4" height="6" fill="#fff"/>
<rect x="609" y="368" width="1" height="1" fill="#fff"/>
<rect x="618" y="356" width="1" height="5" fill="#fff"/>
<rect x="616" y="362" width="4" height="6" fill="#fff"/>
<rect x="615" y="368" width="1" height="1" fill="#fff"/>
<rect x="624" y="356" width="2" height="5" fill="#fff"/>
<rect x="622" y="362" width="4" height="6" fill="#fff"/>
<rect x="621" y="368" width="1" height="1" fill="#fff"/>
<rect x="630" y="356" width="1" height="5" fill="#fff"/>
<rect x="628" y="362" width="4" height="6" fill="#fff"/>
<rect x="627" y="368" width="1" height="1" fill="#fff"/>
<rect x="636" y="356" width="2" height="5" fill="#fff"/>
<rect x="634" y="362" width="4" height="6" fill="#fff"/>
<rect x="633" y="368" width="1" height="1" fill="#fff"/>
<rect x="642" y="356" width="1" height="5" fill="#fff"/>
<rect x="640" y="362" width="4" height="6" fill="#fff"/>
<rect x="639" y="368" width="1" height="1" fill="#fff"/>
<rect x="647" y="356" width="2" height="5" fill="#fff"/>
<rect x="645" y="362" width="4" height="6" fill="#fff"/>
<rect x="644" y="368" width="1" height="1" fill="#fff"/>
<rect x="653" y="356" width="1" height="5" fill="#fff"/>
<rect x="651" y="362" width="4" height="6" fill="#fff"/>
<rect x="650" y="368" width="1" height="1" fill="#fff"/>
<rect x="659" y="356" width="2" height="5" fill="#fff"/>
<rect x="657" y="362" width="4" height="6" fill="#fff"/>
<rect x="656" y="368" width="1" height="1" fill="#fff"/>
<rect x="665" y="356" width="1" height="5" fill="#fff"/>
<rect x="663" y="362" width="4" height="6" fill="#fff"/>
<rect x="662" y="368" width="1" height="1" fill="#fff"/>
<rect x="671" y="356" width="2" height="5" fill="#fff"/>
<rect x="669" y="362" width="4" height="6" fill="#fff"/>
<rect x="668" y="368" width="1" height="1" fill="#fff"/>
<rect x="677" y="356" width="1" height="5" fill="#fff"/>
<rect x="675" y="362" width="4" height="6" fill="#fff"/>
<rect x="674" y="368" width="1" height="1" fill="#fff"/>
<rect x="683" y="356" width="2" height="5" fill="#fff"/>
<rect x="681" y="362" width="4" height="6" fill="#fff"/>
<rect x="680" y="368" width="1" height="1" fill="#fff"/>
<rect x="688" y="356" width="1" height="5" fill="#fff"/>
<rect x="686" y="362" width="4" height="6" fill="#fff"/>
<rect x="685" y="368" width="1" height="1" fill="#fff"/>
<rect x="694" y="356" width="2" height="5" fill="#fff"/>
<rect x="692" y="362" width="4" height="6" fill="#fff"/>
<rect x="691" y="368" width="1" height="1" fill="#fff"/>
<rect x="700" y="356" width="1" height="5" fill="#fff"/>
<rect x="698" y="362" width="4" height="6" fill="#fff"/>
<rect x="697" y="368" width="1" height="1" fill="#fff"/>
<rect x="500" y="373" width="226" height="1" fill="#000"/>
<rect x="500" y="391" width="226" height="1" fill="#000"/>
<rect x="500" y="373" width="1" height="19" fill="#000"/>
<rect x="725" y="373" width="1" height="19" fill="#000"/>
<rect x="718" y="380" width="7" height="1" fill="#000"/>
<rect x="718" y="387" width="7" height="1" fill="#000"/>
<rect x="501" y="380" width="6" height="1" fill="#000"/>
<rect x="501" y="387" width="6" height="1" fill="#000"/>
<rect x="507" y="374" width="4" height="16" fill="#000"/>
<rect x="508" y="388" width="1" height="1" fill="#fff"/>
<rect x="507" y="374" width="13" height="1" fill="#000"/>
<rect x="518" y="374" width="1" height="8" fill="#000"/>
<rect x="512" y="378" width="2" height="1" fill="#000"/>
<rect x="518" y="378" width="3" height="1" fill="#000"/>
<rect x="513" y="378" width="1" height="4" fill="#000"/>
<rect x="513" y="381" width="6" height="1" fill="#000"/>
<rect x="512" y="378" width="1" height="11" fill="#000"/>
<rect x="520" y="378" width="1" height="11" fill="#000"/>
<rect x="512" y="388" width="9" height="1" fill="#000"/>
<rect x="718" y="380" width="6" height="1" fill="#000"/>
<rect x="718" y="387" width="6" height="1" fill="#000"/>
<rect x="714" y="374" width="4" height="16" fill="#000"/>
<rect x="705" y="374" width="13" height="1" fill="#000"/>
<rect x="706" y="374" width="1" height="8" fill="#000"/>
<rect x="711" y="378" width="2" height="1" fill="#000"/>
<rect x="704" y="378" width="3" height="1" fill="#000"/>
<rect x="711" y="378" width="1" height="4" fill="#000"/>
<rect x="706" y="381" width="6" height="1" fill="#000"/>
<rect x="712" y="378" width="1" height="11" fill="#000"/>
<rect x="704" y="378" width="1" height="11" fill="#000"/>
<rect x="704" y="388" width="9" height="1" fill="#000"/>
<rect x="508" y="389" width="196" height="1" fill="#000"/>
<rect x="526" y="375" width="174" height="15" fill="#000"/>
<rect x="525" y="381" width="175" height="9" fill="#000"/>
<rect x="530" y="376" width="2" height="5" fill="#fff"/>
<rect x="528" y="382" width="4" height="6" fill="#fff"/>
<rect x="527" y="388" width="1" height="1" fill="#fff"/>
<rect x="536" y="376" width="1" height="5" fill="#fff"/>
<rect x="534" y="382" width="4" height="6" fill="#fff"/>
<rect x="533" y="388" width="1" height="1" fill="#fff"/>
<rect x="542" y="376" width="2" height="5" fill="#fff"/>
<rect x="540" y="382" width="4" height="6" fill="#fff"/>
<rect x="539" y="388" width="1" height="1" fill="#fff"/>
<rect x="548" y="376" width="1" height="5" fill="#fff"/>
<rect x="546" y="382" width="4" height="6" fill="#fff"/>
<rect x="545" y="388" width="1" height="1" fill="#fff"/>
<rect x="553" y="376" width="2" height="5" fill="#fff"/>
<rect x="551" y="382" width="4" height="6" fill="#fff"/>
<rect x="550" y="388" width="1" height="1" fill="#fff"/>
<rect x="559" y="376" width="1" height="5" fill="#fff"/>
<rect x="557" y="382" width="4" height="6" fill="#fff"/>
<rect x="556" y="388" width="1" height="1" fill="#fff"/>
<rect x="565" y="376" width="2" height="5" fill="#fff"/>
<rect x="563" y="382" width="4" height="6" fill="#fff"/>
<rect x="562" y="388" width="1" height="1" fill="#fff"/>
<rect x="571" y="376" width="1" height="5" fill="#fff"/>
<rect x="569" y="382" width="4" height="6" fill="#fff"/>
<rect x="568" y="388" width="1" height="1" fill="#fff"/>
<rect x="577" y="376" width="2" height="5" fill="#fff"/>
<rect x="575" y="382" width="4" height="6" fill="#fff"/>
<rect x="574" y="388" width="1" height="1" fill="#fff"/>
<rect x="583" y="376" width="1" height="5" fill="#fff"/>
<rect x="581" y="382" width="4" height="6" fill="#fff"/>
<rect x="580" y="388" width="1" height="1" fill="#fff"/>
<rect x="589" y="376" width="2" height="5" fill="#fff"/>
<rect x="587" y="382" width="4" height="6" fill="#fff"/>
<rect x="586" y="388" width="1" height="1" fill="#fff"/>
<rect x="595" y="376" width="1" height="5" fill="#fff"/>
<rect x="593" y="382" width="4" height="6" fill="#fff"/>
<rect x="592" y="388" width="1" height="1" fill="#fff"/>
<rect x="600" y="376" width="2" height="5" fill="#fff"/>
<rect x="598" y="382" width="4" height="6" fill="#fff"/>
<rect x="597" y="388" width="1" height="1" fill="#fff"/>
<rect x="606" y="376" width="1" height="5" fill="#fff"/>
<rect x="604" y="382" width="4" height="6" fill="#fff"/>
<rect x="603" y="388" width="1" height="1" fill="#fff"/>
<rect x="612" y="376" width="2" height="5" fill="#fff"/>
<rect x="610" y="382" width="4" height="6" fill="#fff"/>
<rect x="609" y="388" width="1" height="1" fill="#fff"/>
<rect x="618" y="376" width="1" height="5" fill="#fff"/>
<rect x="616" y="382" width="4" height="6" fill="#fff"/>
<rect x="615" y="388" width="1" height="1" fill="#fff"/>
<rect x="624" y="376" width="2" height="5" fill="#fff"/>
<rect x="622" y="382" width="4" height="6" fill="#fff"/>
<rect x="621" y="388" width="1" height="1" fill="#fff"/>
<rect x="630" y="376" width="1" height="5" fill="#fff"/>
<rect x="628" y="382" width="4" height="6" fill="#fff"/>
<rect x="627" y="388" width="1" height="1" fill="#fff"/>
<rect x="636" y="376" width="2" height="5" fill="#fff"/>
<rect x="634" y="382" width="4" height="6" fill="#fff"/>
<rect x="633" y="388" width="1" height="1" fill="#fff"/>
<rect x="642" y="376" width="1" height="5" fill="#fff"/>
<rect x="640" y="382" width="4" height="6" fill="#fff"/>
<rect x="639" y="388" width="1" height="1" fill="#fff"/>
<rect x="647" y="376" width="2" height="5" fill="#fff"/>
<rect x="645" y="382" width="4" height="6" fill="#fff"/>
<rect x="644" y="388" width="1" height="1" fill="#fff"/>
<rect x="653" y="376" width="1" height="5" fill="#fff"/>
<rect x="651" y="382" width="4" height="6" fill="#fff"/>
<rect x="650" y="388" width="1" height="1" fill="#fff"/>
<rect x="659" y="376" width="2" height="5" fill="#fff"/>
<rect x="657" y="382" width="4" height="6" fill="#fff"/>
<rect x="656" y="388" width="1" height="1" fill="#fff"/>
<rect x="665" y="376" width="1" height="5" fill="#fff"/>
<rect x="663" y="382" width="4" height="6" fill="#fff"/>
<rect x="662" y="388" width="1" height="1" fill="#fff"/>
<rect x="671" y="376" width="2" height="5" fill="#fff"/>
<rect x="669" y="382" width="4" height="6" fill="#fff"/>
<rect x="668" y="388" width="1" height="1" fill="#fff"/>
<rect x="677" y="376" width="1" height="5" fill="#fff"/>
<rect x="675" y="382" width="4" height="6" fill="#fff"/>
<rect x="674" y="388" width="1" height="1" fill="#fff"/>
<rect x="683" y="376" width="2" height="5" fill="#fff"/>
<rect x="681" y="382" width="4" height="6" fill="#fff"/>
<rect x="680" y="388" width="1" height="1" fill="#fff"/>
<rect x="688" y="376" width="1" height="5" fill="#fff"/>
<rect x="686" y="382" width="4" height="6" fill="#fff"/>
<rect x="685" y="388" width="1" height="1" fill="#fff"/>
<rect x="694" y="376" width="2" height="5" fill="#fff"/>
<rect x="692" y="382" width="4" height="6" fill="#fff"/>
<rect x="691" y="388" width="1" height="1" fill="#fff"/>
<rect x="700" y="376" width="1" height="5" fill="#fff"/>
<rect x="698" y="382" width="4" height="6" fill="#fff"/>
<rect x="697" y="388" width="1" height="1" fill="#fff"/>
<rect x="500" y="393" width="226" height="1" fill="#000"/>
<rect x="500" y="411" width="226" height="1" fill="#000"/>
<rect x="500" y="393" width="1" height="19" fill="#000"/>
<rect x="725" y="393" width="1" height="19" fill="#000"/>
<rect x="718" y="400" width="7" height="1" fill="#000"/>
<rect x="718" y="407" width="7" height="1" fill="#000"/>
<rect x="501" y="400" width="6" height="1" fill="#000"/>
<rect x="501" y="407" width="6" height="1" fill="#000"/>
<rect x="507" y="394" width="4" height="16" fill="#000"/>
<rect x="508" y="408" width="1" height="1" fill="#fff"/>
<rect x="507" y="394" width="13" height="1" fill="#000"/>
<rect x="518" y="394" width="1" height="8" fill="#000"/>
<rect x="512" y="398" width="2" height="1" fill="#000"/>
<rect x="518" y="398" width="3" height="1" fill="#000"/>
<rect x="513" y="398" width="1" height="4" fill="#000"/>
<rect x="513" y="401" width="6" height="1" fill="#000"/>
<rect x="512" y="398" width="1" height="11" fill="#000"/>
<rect x="520" y="398" width="1" height="11" fill="#000"/>
<rect x="512" y="408" width="9" height="1" fill="#000"/>
<rect x="718" y="400" width="6" height="1" fill="#000"/>
<rect x="718" y="407" width="6" height="1" fill="#000"/>
<rect x="714" y="394" width="4" height="16" fill="#000"/>
<rect x="705" y="394" width="13" height="1" fill="#000"/>
<rect x="706" y="394" width="1" height="8" fill="#000"/>
<rect x="711" y="398" width="2" height="1" fill="#000"/>
<rect x="704" y="398" width="3" height="1" fill="#000"/>
<rect x="711" y="398" width="1" height="4" fill="#000"/>
<rect x="706" y="401" width="6" height="1" fill="#000"/>
<rect x="712" y="398" width="1" height="11" fill="#000"/>
<rect x="704" y="398" width="1" height="11" fill="#000"/>
<rect x="704" y="408" width="9" height="1" fill="#000"/>
<rect x="508" y="409" width="196" height="1" fill="#000"/>
<rect x="526" y="395" width="174" height="15" fill="#000"/>
<rect x="525" y="401" width="175" height="9" fill="#000"/>
<rect x="530" y="396" width="2" height="5" fill="#fff"/>
<rect x="528" y="402" width="4" height="6" fill="#fff"/>
<rect x="527" y="408" width="1" height="1" fill="#fff"/>
<rect x="536" y="396" width="1" height="5" fill="#fff"/>
<rect x="534" y="402" width="4" height="6" fill="#fff"/>
<rect x="533" y="408" width="1" height="1" fill="#fff"/>
<rect x="542" y="396" width="2" height="5" fill="#fff"/>
<rect x="540" y="402" width="4" height="6" fill="#fff"/>
<rect x="539" y="408" width="1" height="1" fill="#fff"/>
<rect x="548" y="396" width="1" height="5" fill="#fff"/>
<rect x="546" y="402" width="4" height="6" fill="#fff"/>
<rect x="545" y="408" width="1" height="1" fill="#fff"/>
<rect x="553" y="396" width="2" height="5" fill="#fff"/>
<rect x="551" y="402" width="4" height="6" fill="#fff"/>
<rect x="550" y="408" width="1" height="1" fill="#fff"/>
<rect x="559" y="396" width="1" height="5" fill="#fff"/>
<rect x="557" y="402" width="4" height="6" fill="#fff"/>
<rect x="556" y="408" width="1" height="1" fill="#fff"/>
<rect x="565" y="396" width="2" height="5" fill="#fff"/>
<rect x="563" y="402" width="4" height="6" fill="#fff"/>
<rect x="562" y="408" width="1" height="1" fill="#fff"/>
<rect x="571" y="396" width="1" height="5" fill="#fff"/>
<rect x="569" y="402" width="4" height="6" fill="#fff"/>
<rect x="568" y="408" width="1" height="1" fill="#fff"/>
<rect x="577" y="396" width="2" height="5" fill="#fff"/>
<rect x="575" y="402" width="4" height="6" fill="#fff"/>
<rect x="574" y="408" width="1" height="1" fill="#fff"/>
<rect x="583" y="396" width="1" height="5" fill="#fff"/>
<rect x="581" y="402" width="4" height="6" fill="#fff"/>
<rect x="580" y="408" width="1" height="1" fill="#fff"/>
<rect x="589" y="396" width="2" height="5" fill="#fff"/>
<rect x="587" y="402" width="4" height="6" fill="#fff"/>
<rect x="586" y="408" width="1" height="1" fill="#fff"/>
<rect x="595" y="396" width="1" height="5" fill="#fff"/>
<rect x="593" y="402" width="4" height="6" fill="#fff"/>
<rect x="592" y="408" width="1" height="1" fill="#fff"/>
<rect x="600" y="396" width="2" height="5" fill="#fff"/>
<rect x="598" y="402" width="4" height="6" fill="#fff"/>
<rect x="597" y="408" width="1" height="1" fill="#fff"/>
<rect x="606" y="396" width="1" height="5" fill="#fff"/>
<rect x="604" y="402" width="4" height="6" fill="#fff"/>
<rect x="603" y="408" width="1" height="1" fill="#fff"/>
<rect x="612" y="396" width="2" height="5" fill="#fff"/>
<rect x="610" y="402" width="4" height="6" fill="#fff"/>
<rect x="609" y="408" width="1" height="1" fill="#fff"/>
<rect x="618" y="396" width="1" height="5" fill="#fff"/>
<rect x="616" y="402" width="4" height="6" fill="#fff"/>
<rect x="615" y="408" width="1" height="1" fill="#fff"/>
<rect x="624" y="396" width="2" height="5" fill="#fff"/>
<rect x="622" y="402" width="4" height="6" fill="#fff"/>
<rect x="621" y="408" width="1" height="1" fill="#fff"/>
<rect x="630" y="396" width="1" height="5" fill="#fff"/>
<rect x="628" y="402" width="4" height="6" fill="#fff"/>
<rect x="627" y="408" width="1" height="1" fill="#fff"/>
<rect x="636" y="396" width="2" height="5" fill="#fff"/>
<rect x="634" y="402" width="4" height="6" fill="#fff"/>
<rect x="633" y="408" width="1" height="1" fill="#fff"/>
<rect x="642" y="396" width="1" height="5" fill="#fff"/>
<rect x="640" y="402" width="4" height="6" fill="#fff"/>
<rect x="639" y="408" width="1" height="1" fill="#fff"/>
<rect x="647" y="396" width="2" height="5" fill="#fff"/>
<rect x="645" y="402" width="4" height="6" fill="#fff"/>
<rect x="644" y="408" width="1" height="1" fill="#fff"/>
<rect x="653" y="396" width="1" height="5" fill="#fff"/>
<rect x="651" y="402" width="4" height="6" fill="#fff"/>
<rect x="650" y="408" width="1" height="1" fill="#fff"/>
<rect x="659" y="396" width="2" height="5" fill="#fff"/>
<rect x="657" y="402" width="4" height="6" fill="#fff"/>
<rect x="656" y="408" width="1" height="1" fill="#fff"/>
<rect x="665" y="396" width="1" height="5" fill="#fff"/>
<rect x="663" y="402" width="4" height="6" fill="#fff"/>
<rect x="662" y="408" width="1" height="1" fill="#fff"/>
<rect x="671" y="396" width="2" height="5" fill="#fff"/>
<rect x="669" y="402" width="4" height="6" fill="#fff"/>
<rect x="668" y="408" width="1" height="1" fill="#fff"/>
<rect x="677" y="396" width="1" height="5" fill="#fff"/>
<rect x="675" y="402" width="4" height="6" fill="#fff"/>
<rect x="674" y="408" width="1" height="1" fill="#fff"/>
<rect x="683" y="396" width="2" height="5" fill="#fff"/>
<rect x="681" y="402" width="4" height="6" fill="#fff"/>
<rect x="680" y="408" width="1" height="1" fill="#fff"/>
<rect x="688" y="396" width="1" height="5" fill="#fff"/>
<rect x="686" y="402" width="4" height="6" fill="#fff"/>
<rect x="685" y="408" width="1" height="1" fill="#fff"/>
<rect x="694" y="396" width="2" height="5" fill="#fff"/>
<rect x="692" y="402" width="4" height="6" fill="#fff"/>
<rect x="691" y="408" width="1" height="1" fill="#fff"/>
<rect x="700" y="396" width="1" height="5" fill="#fff"/>
<rect x="698" y="402" width="4" height="6" fill="#fff"/>
<rect x="697" y="408" width="1" height="1" fill="#fff"/>
<rect x="500" y="414" width="226" height="1" fill="#000"/>
<rect x="500" y="432" width="226" height="1" fill="#000"/>
<rect x="500" y="414" width="1" height="19" fill="#000"/>
<rect x="725" y="414" width="1" height="19" fill="#000"/>
<rect x="718" y="421" width="7" height="1" fill="#000"/>
<rect x="718" y="428" width="7" height="1" fill="#000"/>
<rect x="501" y="421" width="6" height="1" fill="#000"/>
<rect x="501" y="428" width="6" height="1" fill="#000"/>
<rect x="507" y="415" width="4" height="16" fill="#000"/>
<rect x="508" y="429" width="1" height="1" fill="#fff"/>
<rect x="507" y="415" width="13" height="1" fill="#000"/>
<rect x="518" y="415" width="1" height="8" fill="#000"/>
<rect x="512" y="419" width="2" height="1" fill="#000"/>
<rect x="518" y="419" width="3" height="1" fill="#000"/>
<rect x="513" y="419" width="1" height="4" fill="#000"/>
<rect x="513" y="422" width="6" height="1" fill="#000"/>
<rect x="512" y="419" width="1" height="11" fill="#000"/>
<rect x="520" y="419" width="1" height="11" fill="#000"/>
<rect x="512" y="429" width="9" height="1" fill="#000"/>
<rect x="718" y="421" width="6" height="1" fill="#000"/>
<rect x="718" y="428" width="6" height="1" fill="#000"/>
<rect x="714" y="415" width="4" height="16" fill="#000"/>
<rect x="705" y="415" width="13" height="1" fill="#000"/>
<rect x="706" y="415" width="1" height="8" fill="#000"/>
<rect x="711" y="419" width="2" height="1" fill="#000"/>
<rect x="704" y="419" width="3" height="1" fill="#000"/>
<rect x="711" y="419" width="1" height="4" fill="#000"/>
<rect x="706" y="422" width="6" height="1" fill="#000"/>
<rect x="712" y="419" width="1" height="11" fill="#000"/>
<rect x="704" y="419" width="1" height="11" fill="#000"/>
<rect x="704" y="429" width="9" height="1" fill="#000"/>
<rect x="508" y="430" width="196" height="1" fill="#000"/>
<rect x="526" y="416" width="174" height="15" fill="#000"/>
<rect x="525" y="422" width="175" height="9" fill="#000"/>
<rect x="530" y="417" width="2" height="5" fill="#fff"/>
<rect x="528" y="423" width="4" height="6" fill="#fff"/>
<rect x="527" y="429" width="1" height="1" fill="#fff"/>
<rect x="536" y="417" width="1" height="5" fill="#fff"/>
<rect x="534" y="423" width="4" height="6" fill="#fff"/>
<rect x="533" y="429" width="1" height="1" fill="#fff"/>
<rect x="542" y="417" width="2" height="5" fill="#fff"/>
<rect x="540" y="423" width="4" height="6" fill="#fff"/>
<rect x="539" y="429" width="1" height="1" fill="#fff"/>
<rect x="548" y="417" width="1" height="5" fill="#fff"/>
<rect x="546" y="423" width="4" height="6" fill="#fff"/>
<rect x="545" y="429" width="1" height="1" fill="#fff"/>
<rect x="553" y="417" width="2" height="5" fill="#fff"/>
<rect x="551" y="423" width="4" height="6" fill="#fff"/>
<rect x="550" y="429" width="1" height="1" fill="#fff"/>
<rect x="559" y="417" width="1" height="5" fill="#fff"/>
<rect x="557" y="423" width="4" height="6" fill="#fff"/>
<rect x="556" y="429" width="1" height="1" fill="#fff"/>
<rect x="565" y="417" width="2" height="5" fill="#fff"/>
<rect x="563" y="423" width="4" height="6" fill="#fff"/>
<rect x="562" y="429" width="1" height="1" fill="#fff"/>
<rect x="571" y="417" width="1" height="5" fill="#fff"/>
<rect x="569" y="423" width="4" height="6" fill="#fff"/>
<rect x="568" y="429" width="1" height="1" fill="#fff"/>
<rect x="577" y="417" width="2" height="5" fill="#fff"/>
<rect x="575" y="423" width="4" height="6" fill="#fff"/>
<rect x="574" y="429" width="1" height="1" fill="#fff"/>
<rect x="583" y="417" width="1" height="5" fill="#fff"/>
<rect x="581" y="423" width="4" height="6" fill="#fff"/>
<rect x="580" y="429" width="1" height="1" fill="#fff"/>
<rect x="589" y="417" width="2" height="5" fill="#fff"/>
<rect x="587" y="423" width="4" height="6" fill="#fff"/>
<rect x="586" y="429" width="1" height="1" fill="#fff"/>
<rect x="595" y="417" width="1" height="5" fill="#fff"/>
<rect x="593" y="423" width="4" height="6" fill="#fff"/>
<rect x="592" y="429" width="1" height="1" fill="#fff"/>
<rect x="600" y="417" width="2" height="5" fill="#fff"/>
<rect x="598" y="423" width="4" height="6" fill="#fff"/>
<rect x="597" y="429" width="1" height="1" fill="#fff"/>
<rect x="606" y="417" width="1" height="5" fill="#fff"/>
<rect x="604" y="423" width="4" height="6" fill="#fff"/>
<rect x="603" y="429" width="1" height="1" fill="#fff"/>
<rect x="612" y="417" width="2" height="5" fill="#fff"/>
<rect x="610" y="423" width="4" height="6" fill="#fff"/>
<rect x="609" y="429" width="1" height="1" fill="#fff"/>
<rect x="618" y="417" width="1" height="5" fill="#fff"/>
<rect x="616" y="423" width="4" height="6" fill="#fff"/>
<rect x="615" y="429" width="1" height="1" fill="#fff"/>
<rect x="624" y="417" width="2" height="5" fill="#fff"/>
<rect x="622" y="423" width="4" height="6" fill="#fff"/>
<rect x="621" y="429" width="1" height="1" fill="#fff"/>
<rect x="630" y="417" width="1" height="5" fill="#fff"/>
<rect x="628" y="423" width="4" height="6" fill="#fff"/>
<rect x="627" y="429" width="1" height="1" fill="#fff"/>
<rect x="636" y="417" width="2" height="5" fill="#fff"/>
<rect x="634" y="423" width="4" height="6" fill="#fff"/>
<rect x="633" y="429" width="1" height="1" fill="#fff"/>
<rect x="642" y="417" width="1" height="5" fill="#fff"/>
<rect x="640" y="423" width="4" height="6" fill="#fff"/>
<rect x="639" y="429" width="1" height="1" fill="#fff"/>
<rect x="647" y="417" width="2" height="5" fill="#fff"/>
<rect x="645" y="423" width="4" height="6" fill="#fff"/>
<rect x="644" y="429" width="1" height="1" fill="#fff"/>
<rect x="653" y="417" width="1" height="5" fill="#fff"/>
<rect x="651" y="423" width="4" height="6" fill="#fff"/>
<rect x="650" y="429" width="1" height="1" fill="#fff"/>
<rect x="659" y="417" width="2" height="5" fill="#fff"/>
<rect x="657" y="423" width="4" height="6" fill="#fff"/>
<rect x="656" y="429" width="1" height="1" fill="#fff"/>
<rect x="665" y="417" width="1" height="5" fill="#fff"/>
<rect x="663" y="423" width="4" height="6" fill="#fff"/>
<rect x="662" y="429" width="1" height="1" fill="#fff"/>
<rect x="671" y="417" width="2" height="5" fill="#fff"/>
<rect x="669" y="423" width="4" height="6" fill="#fff"/>
<rect x="668" y="429" width="1" height="1" fill="#fff"/>
<rect x="677" y="417" width="1" height="5" fill="#fff"/>
<rect x="675" y="423" width="4" height="6" fill="#fff"/>
<rect x="674" y="429" width="1" height="1" fill="#fff"/>
<rect x="683" y="417" width="2" height="5" fill="#fff"/>
<rect x="681" y="423" width="4" height="6" fill="#fff"/>
<rect x="680" y="429" width="1" height="1" fill="#fff"/>
<rect x="688" y="417" width="1" height="5" fill="#fff"/>
<rect x="686" y="423" width="4" height="6" fill="#fff"/>
<rect x="685" y="429" width="1" height="1" fill="#fff"/>
<rect x="694" y="417" width="2" height="5" fill="#fff"/>
<rect x="692" y="423" width="4" height="6" fill="#fff"/>
<rect x="691" y="429" width="1" height="1" fill="#fff"/>
<rect x="700" y="417" width="1" height="5" fill="#fff"/>
<rect x="698" y="423" width="4" height="6" fill="#fff"/>
<rect x="697" y="429" width="1" height="1" fill="#fff"/>
<rect x="500" y="434" width="226" height="1" fill="#000"/>
<rect x="500" y="452" width="226" height="1" fill="#000"/>
<rect x="500" y="434" width="1" height="19" fill="#000"/>
<rect x="725" y="434" width="1" height="19" fill="#000"/>
<rect x="718" y="441" width="7" height="1" fill="#000"/>
<rect x="718" y="448" width="7" height="1" fill="#000"/>
<rect x="501" y="441" width="6" height="1" fill="#000"/>
<rect x="501" y="448" width="6" height="1" fill="#000"/>
<rect x="507" y="435" width="4" height="16" fill="#000"/>
<rect x="508" y="449" width="1" height="1" fill="#fff"/>
<rect x="507" y="435" width="13" height="1" fill="#000"/>
<rect x="518" y="435" width="1" height="8" fill="#000"/>
<rect x="512" y="439" width="2" height="1" fill="#000"/>
<rect x="518" y="439" width="3" height="1" fill="#000"/>
<rect x="513" y="439" width="1" height="4" fill="#000"/>
<rect x="513" y="442" width="6" height="1" fill="#000"/>
<rect x="512" y="439" width="1" height="11" fill="#000"/>
<rect x="520" y="439" width="1" height="11" fill="#000"/>
<rect x="512" y="449" width="9" height="1" fill="#000"/>
<rect x="718" y="441" width="6" height="1" fill="#000"/>
<rect x="718" y="448" width="6" height="1" fill="#000"/>
<rect x="714" y="435" width="4" height="16" fill="#000"/>
<rect x="705" y="435" width="13" height="1" fill="#000"/>
<rect x="706" y="435" width="1" height="8" fill="#000"/>
<rect x="711" y="439" width="2" height="1" fill="#000"/>
<rect x="704" y="439" width="3" height="1" fill="#000"/>
<rect x="711" y="439" width="1" height="4" fill="#000"/>
<rect x="706" y="442" width="6" height="1" fill="#000"/>
<rect x="712" y="439" width="1" height="11" fill="#000"/>
<rect x="704" y="439" width="1" height="11" fill="#000"/>
<rect x="704" y="449" width="9" height="1" fill="#000"/>
<rect x="508" y="450" width="196" height="1" fill="#000"/>
<rect x="526" y="436" width="174" height="15" fill="#000"/>
<rect x="525" y="442" width="175" height="9" fill="#000"/>
<rect x="530" y="437" width="2" height="5" fill="#fff"/>
<rect x="528" y="443" width="4" height="6" fill="#fff"/>
<rect x="527" y="449" width="1" height="1" fill="#fff"/>
<rect x="536" y="437" width="1" height="5" fill="#fff"/>
<rect x="534" y="443" width="4" height="6" fill="#fff"/>
<rect x="533" y="449" width="1" height="1" fill="#fff"/>
<rect x="542" y="437" width="2" height="5" fill="#fff"/>
<rect x="540" y="443" width="4" height="6" fill="#fff"/>
<rect x="539" y="449" width="1" height="1" fill="#fff"/>
<rect x="548" y="437" width="1" height="5" fill="#fff"/>
<rect x="546" y="443" width="4" height="6" fill="#fff"/>
<rect x="545" y="449" width="1" height="1" fill="#fff"/>
<rect x="553" y="437" width="2" height="5" fill="#fff"/>
<rect x="551" y="443" width="4" height="6" fill="#fff"/>
<rect x="550" y="449" width="1" height="1" fill="#fff"/>
<rect x="559" y="437" width="1" height="5" fill="#fff"/>
<rect x="557" y="443" width="4" height="6" fill="#fff"/>
<rect x="556" y="449" width="1" height="1" fill="#fff"/>
<rect x="565" y="437" width="2" height="5" fill="#fff"/>
<rect x="563" y="443" width="4" height="6" fill="#fff"/>
<rect x="562" y="449" width="1" height="1" fill="#fff"/>
<rect x="571" y="437" width="1" height="5" fill="#fff"/>
<rect x="569" y="443" width="4" height="6" fill="#fff"/>
<rect x="568" y="449" width="1" height="1" fill="#fff"/>
<rect x="577" y="437" width="2" height="5" fill="#fff"/>
<rect x="575" y="443" width="4" height="6" fill="#fff"/>
<rect x="574" y="449" width="1" height="1" fill="#fff"/>
<rect x="583" y="437" width="1" height="5" fill="#fff"/>
<rect x="581" y="443" width="4" height="6" fill="#fff"/>
<rect x="580" y="449" width="1" height="1" fill="#fff"/>
<rect x="589" y="437" width="2" height="5" fill="#fff"/>
<rect x="587" y="443" width="4" height="6" fill="#fff"/>
<rect x="586" y="449" width="1" height="1" fill="#fff"/>
<rect x="595" y="437" width="1" height="5" fill="#fff"/>
<rect x="593" y="443" width="4" height="6" fill="#fff"/>
<rect x="592" y="449" width="1" height="1" fill="#fff"/>
<rect x="600" y="437" width="2" height="5" fill="#fff"/>
<rect x="598" y="443" width="4" height="6" fill="#fff"/>
<rect x="597" y="449" width="1" height="1" fill="#fff"/>
<rect x="606" y="437" width="1" height="5" fill="#fff"/>
<rect x="604" y="443" width="4" height="6" fill="#fff"/>
<rect x="603" y="449" width="1" height="1" fill="#fff"/>
<rect x="612" y="437" width="2" height="5" fill="#fff"/>
<rect x="610" y="443" width="4" height="6" fill="#fff"/>
<rect x="609" y="449" width="1" height="1" fill="#fff"/>
<rect x="618" y="437" width="1" height="5" fill="#fff"/>
<rect x="616" y="443" width="4" height="6" fill="#fff"/>
<rect x="615" y="449" width="1" height="1" fill="#fff"/>
<rect x="624" y="437" width="2" height="5" fill="#fff"/>
<rect x="622" y="443" width="4" height="6" fill="#fff"/>
<rect x="621" y="449" width="1" height="1" fill="#fff"/>
<rect x="630" y="437" width="1" height="5" fill="#fff"/>
<rect x="628" y="443" width="4" height="6" fill="#fff"/>
<rect x="627" y="449" width="1" height="1" fill="#fff"/>
<rect x="636" y="437" width="2" height="5" fill="#fff"/>
<rect x="634" y="443" width="4" height="6" fill="#fff"/>
<rect x="633" y="449" width="1" height="1" fill="#fff"/>
<rect x="642" y="437" width="1" height="5" fill="#fff"/>
<rect x="640" y="443" width="4" height="6" fill="#fff"/>
<rect x="639" y="449" width="1" height="1" fill="#fff"/>
<rect x="647" y="437" width="2" height="5" fill="#fff"/>
<rect x="645" y="443" width="4" height="6" fill="#fff"/>
<rect x="644" y="449" width="1" height="1" fill="#fff"/>
<rect x="653" y="437" width="1" height="5" fill="#fff"/>
<rect x="651" y="443" width="4" height="6" fill="#fff"/>
<rect x="650" y="449" width="1" height="1" fill="#fff"/>
<rect x="659" y="437" width="2" height="5" fill="#fff"/>
<rect x="657" y="443" width="4" height="6" fill="#fff"/>
<rect x="656" y="449" width="1" height="1" fill="#fff"/>
<rect x="665" y="437" width="1" height="5" fill="#fff"/>
<rect x="663" y="443" width="4" height="6" fill="#fff"/>
<rect x="662" y="449" width="1" height="1" fill="#fff"/>
<rect x="671" y="437" width="2" height="5" fill="#fff"/>
<rect x="669" y="443" width="4" height="6" fill="#fff"/>
<rect x="668" y="449" width="1" height="1" fill="#fff"/>
<rect x="677" y="437" width="1" height="5" fill="#fff"/>
<rect x="675" y="443" width="4" height="6" fill="#fff"/>
<rect x="674" y="449" width="1" height="1" fill="#fff"/>
<rect x="683" y="437" width="2" height="5" fill="#fff"/>
<rect x="681" y="443" width="4" height="6" fill="#fff"/>
<rect x="680" y="449" width="1" height="1" fill="#fff"/>
<rect x="688" y="437" width="1" height="5" fill="#fff"/>
<rect x="686" y="443" width="4" height="6" fill="#fff"/>
<rect x="685" y="449" width="1" height="1" fill="#fff"/>
<rect x="694" y="437" width="2" height="5" fill="#fff"/>
<rect x="692" y="443" width="4" height="6" fill="#fff"/>
<rect x="691" y="449" width="1" height="1" fill="#fff"/>
<rect x="700" y="437" width="1" height="5" fill="#fff"/>
<rect x="698" y="443" width="4" height="6" fill="#fff"/>
<rect x="697" y="449" width="1" height="1" fill="#fff"/>
<rect x="500" y="454" width="226" height="1" fill="#000"/>
<rect x="500" y="472" width="226" height="1" fill="#000"/>
<rect x="500" y="454" width="1" height="19" fill="#000"/>
<rect x="725" y="454" width="1" height="19" fill="#000"/>
<rect x="718" y="461" width="7" height="1" fill="#000"/>
<rect x="718" y="468" width="7" height="1" fill="#000"/>
<rect x="501" y="461" width="6" height="1" fill="#000"/>
<rect x="501" y="468" width="6" height="1" fill="#000"/>
<rect x="507" y="455" width="4" height="16" fill="#000"/>
<rect x="508" y="469" width="1" height="1" fill="#fff"/>
<rect x="507" y="455" width="13" height="1" fill="#000"/>
<rect x="518" y="455" width="1" height="8" fill="#000"/>
<rect x="512" y="459" width="2" height="1" fill="#000"/>
<rect x="518" y="459" width="3" height="1" fill="#000"/>
<rect x="513" y="459" width="1" height="4" fill="#000"/>
<rect x="513" y="462" width="6" height="1" fill="#000"/>
<rect x="512" y="459" width="1" height="11" fill="#000"/>
<rect x="520" y="459" width="1" height="11" fill="#000"/>
<rect x="512" y="469" width="9" height="1" fill="#000"/>
<rect x="718" y="461" width="6" height="1" fill="#000"/>
<rect x="718" y="468" width="6" height="1" fill="#000"/>
<rect x="714" y="455" width="4" height="16" fill="#000"/>
<rect x="705" y="455" width="13" height="1" fill="#000"/>
<rect x="706" y="455" width="1" height="8" fill="#000"/>
<rect x="711" y="459" width="2" height="1" fill="#000"/>
<rect x="704" y="459" width="3" height="1" fill="#000"/>
<rect x="711" y="459" width="1" height="4" fill="#000"/>
<rect x="706" y="462" width="6" height="1" fill="#000"/>
<rect x="712" y="459" width="1" height="11" fill="#000"/>
<rect x="704" y="459" width="1" height="11" fill="#000"/>
<rect x="704" y="469" width="9" height="1" fill="#000"/>
<rect x="508" y="470" width="196" height="1" fill="#000"/>
<rect x="526" y="456" width="174" height="15" fill="#000"/>
<rect x="525" y="462" width="175" height="9" fill="#000"/>
<rect x="530" y="457" width="2" height="5" fill="#fff"/>
<rect x="528" y="463" width="4" height="6" fill="#fff"/>
<rect x="527" y="469" width="1" height="1" fill="#fff"/>
<rect x="536" y="457" width="1" height="5" fill="#fff"/>
<rect x="534" y="463" width="4" height="6" fill="#fff"/>
<rect x="533" y="469" width="1" height="1" fill="#fff"/>
<rect x="542" y="457" width="2" height="5" fill="#fff"/>
<rect x="540" y="463" width="4" height="6" fill="#fff"/>
<rect x="539" y="469" width="1" height="1" fill="#fff"/>
<rect x="548" y="457" width="1" height="5" fill="#fff"/>
<rect x="546" y="463" width="4" height="6" fill="#fff"/>
<rect x="545" y="469" width="1" height="1" fill="#fff"/>
<rect x="553" y="457" width="2" height="5" fill="#fff"/>
<rect x="551" y="463" width="4" height="6" fill="#fff"/>
<rect x="550" y="469" width="1" height="1" fill="#fff"/>
<rect x="559" y="457" width="1" height="5" fill="#fff"/>
<rect x="557" y="463" width="4" height="6" fill="#fff"/>
<rect x="556" y="469" width="1" height="1" fill="#fff"/>
<rect x="565" y="457" width="2" height="5" fill="#fff"/>
<rect x="563" y="463" width="4" height="6" fill="#fff"/>
<rect x="562" y="469" width="1" height="1" fill="#fff"/>
<rect x="571" y="457" width="1" height="5" fill="#fff"/>
<rect x="569" y="463" width="4" height="6" fill="#fff"/>
<rect x="568" y="469" width="1" height="1" fill="#fff"/>
<rect x="577" y="457" width="2" height="5" fill="#fff"/>
<rect x="575" y="463" width="4" height="6" fill="#fff"/>
<rect x="574" y="469" width="1" height="1" fill="#fff"/>
<rect x="583" y="457" width="1" height="5" fill="#fff"/>
<rect x="581" y="463" width="4" height="6" fill="#fff"/>
<rect x="580" y="469" width="1" height="1" fill="#fff"/>
<rect x="589" y="457" width="2" height="5" fill="#fff"/>
<rect x="587" y="463" width="4" height="6" fill="#fff"/>
<rect x="586" y="469" width="1" height="1" fill="#fff"/>
<rect x="595" y="457" width="1" height="5" fill="#fff"/>
<rect x="593" y="463" width="4" height="6" fill="#fff"/>
<rect x="592" y="469" width="1" height="1" fill="#fff"/>
<rect x="600" y="457" width="2" height="5" fill="#fff"/>
<rect x="598" y="463" width="4" height="6" fill="#fff"/>
<rect x="597" y="469" width="1" height="1" fill="#fff"/>
<rect x="606" y="457" width="1" height="5" fill="#fff"/>
<rect x="604" y="463" width="4" height="6" fill="#fff"/>
<rect x="603" y="469" width="1" height="1" fill="#fff"/>
<rect x="612" y="457" width="2" height="5" fill="#fff"/>
<rect x="610" y="463" width="4" height="6" fill="#fff"/>
<rect x="609" y="469" width="1" height="1" fill="#fff"/>
<rect x="618" y="457" width="1" height="5" fill="#fff"/>
<rect x="616" y="463" width="4" height="6" fill="#fff"/>
<rect x="615" y="469" width="1" height="1" fill="#fff"/>
<rect x="624" y="457" width="2" height="5" fill="#fff"/>
<rect x="622" y="463" width="4" height="6" fill="#fff"/>
<rect x="621" y="469" width="1" height="1" fill="#fff"/>
<rect x="630" y="457" width="1" height="5" fill="#fff"/>
<rect x="628" y="463" width="4" height="6" fill="#fff"/>
<rect x="627" y="469" width="1" height="1" fill="#fff"/>
<rect x="636" y="457" width="2" height="5" fill="#fff"/>
<rect x="634" y="463" width="4" height="6" fill="#fff"/>
<rect x="633" y="469" width="1" height="1" fill="#fff"/>
<rect x="642" y="457" width="1" height="5" fill="#fff"/>
<rect x="640" y="463" width="4" height="6" fill="#fff"/>
<rect x="639" y="469" width="1" height="1" fill="#fff"/>
<rect x="647" y="457" width="2" height="5" fill="#fff"/>
<rect x="645" y="463" width="4" height="6" fill="#fff"/>
<rect x="644" y="469" width="1" height="1" fill="#fff"/>
<rect x="653" y="457" width="1" height="5" fill="#fff"/>
<rect x="651" y="463" width="4" height="6" fill="#fff"/>
<rect x="650" y="469" width="1" height="1" fill="#fff"/>
<rect x="659" y="457" width="2" height="5" fill="#fff"/>
<rect x="657" y="463" width="4" height="6" fill="#fff"/>
<rect x="656" y="469" width="1" height="1" fill="#fff"/>
<rect x="665" y="457" width="1" height="5" fill="#fff"/>
<rect x="663" y="463" width="4" height="6" fill="#fff"/>
<rect x="662" y="469" width="1" height="1" fill="#fff"/>
<rect x="671" y="457" width="2" height="5" fill="#fff"/>
<rect x="669" y="463" width="4" height="6" fill="#fff"/>
<rect x="668" y="469" width="1" height="1" fill="#fff"/>
<rect x="677" y="457" width="1" height="5" fill="#fff"/>
<rect x="675" y="463" width="4" height="6" fill="#fff"/>
<rect x="674" y="469" width="1" height="1" fill="#fff"/>
<rect x="683" y="457" width="2" height="5" fill="#fff"/>
<rect x="681" y="463" width="4" height="6" fill="#fff"/>
<rect x="680" y="469" width="1" height="1" fill="#fff"/>
<rect x="688" y="457" width="1" height="5" fill="#fff"/>
<rect x="686" y="463" width="4" height="6" fill="#fff"/>
<rect x="685" y="469" width="1" height="1" fill="#fff"/>
<rect x="694" y="457" width="2" height="5" fill="#fff"/>
<rect x="692" y="463" width="4" height="6" fill="#fff"/>
<rect x="691" y="469" width="1" height="1" fill="#fff"/>
<rect x="700" y="457" width="1" height="5" fill="#fff"/>
<rect x="698" y="463" width="4" height="6" fill="#fff"/>
<rect x="697" y="469" width="1" height="1" fill="#fff"/>
<rect x="500" y="474" width="226" height="1" fill="#000"/>
<rect x="500" y="492" width="226" height="1" fill="#000"/>
<rect x="500" y="474" width="1" height="19" fill="#000"/>
<rect x="725" y="474" width="1" height="19" fill="#000"/>
<rect x="718" y="481" width="7" height="1" fill="#000"/>
<rect x="718" y="488" width="7" height="1" fill="#000"/>
<rect x="501" y="481" width="6" height="1" fill="#000"/>
<rect x="501" y="488" width="6" height="1" fill="#000"/>
<rect x="507" y="475" width="4" height="16" fill="#000"/>
<rect x="508" y="489" width="1" height="1" fill="#fff"/>
<rect x="507" y="475" width="13" height="1" fill="#000"/>
<rect x="518" y="475" width="1" height="8" fill="#000"/>
<rect x="512" y="479" width="2" height="1" fill="#000"/>
<rect x="518" y="479" width="3" height="1" fill="#000"/>
<rect x="513" y="479" width="1" height="4" fill="#000"/>
<rect x="513" y="482" width="6" height="1" fill="#000"/>
<rect x="512" y="479" width="1" height="11" fill="#000"/>
<rect x="520" y="479" width="1" height="11" fill="#000"/>
<rect x="512" y="489" width="9" height="1" fill="#000"/>
<rect x="718" y="481" width="6" height="1" fill="#000"/>
<rect x="718" y="488" width="6" height="1" fill="#000"/>
<rect x="714" y="475" width="4" height="16" fill="#000"/>
<rect x="705" y="475" width="13" height="1" fill="#000"/>
<rect x="706" y="475" width="1" height="8" fill="#000"/>
<rect x="711" y="479" width="2" height="1" fill="#000"/>
<rect x="704" y="479" width="3" height="1" fill="#000"/>
<rect x="711" y="479" width="1" height="4" fill="#000"/>
<rect x="706" y="482" width="6" height="1" fill="#000"/>
<rect x="712" y="479" width="1" height="11" fill="#000"/>
<rect x="704" y="479" width="1" height="11" fill="#000"/>
<rect x="704" y="489" width="9" height="1" fill="#000"/>
<rect x="508" y="490" width="196" height="1" fill="#000"/>
<rect x="526" y="476" width="174" height="15" fill="#000"/>
<rect x="525" y="482" width="175" height="9" fill="#000"/>
<rect x="530" y="477" width="2" height="5" fill="#fff"/>
<rect x="528" y="483" width="4" height="6" fill="#fff"/>
<rect x="527" y="489" width="1" height="1" fill="#fff"/>
<rect x="536" y="477" width="1" height="5" fill="#fff"/>
<rect x="534" y="483" width="4" height="6" fill="#fff"/>
<rect x="533" y="489" width="1" height="1" fill="#fff"/>
<rect x="542" y="477" width="2" height="5" fill="#fff"/>
<rect x="540" y="483" width="4" height="6" fill="#fff"/>
<rect x="539" y="489" width="1" height="1" fill="#fff"/>
<rect x="548" y="477" width="1" height="5" fill="#fff"/>
<rect x="546" y="483" width="4" height="6" fill="#fff"/>
<rect x="545" y="489" width="1" height="1" fill="#fff"/>
<rect x="553" y="477" width="2" height="5" fill="#fff"/>
<rect x="551" y="483" width="4" height="6" fill="#fff"/>
<rect x="550" y="489" width="1" height="1" fill="#fff"/>
<rect x="559" y="477" width="1" height="5" fill="#fff"/>
<rect x="557" y="483" width="4" height="6" fill="#fff"/>
<rect x="556" y="489" width="1" height="1" fill="#fff"/>
<rect x="565" y="477" width="2" height="5" fill="#fff"/>
<rect x="563" y="483" width="4" height="6" fill="#fff"/>
<rect x="562" y="489" width="1" height="1" fill="#fff"/>
<rect x="571" y="477" width="1" height="5" fill="#fff"/>
<rect x="569" y="483" width="4" height="6" fill="#fff"/>
<rect x="568" y="489" width="1" height="1" fill="#fff"/>
<rect x="577" y="477" width="2" height="5" fill="#fff"/>
<rect x="575" y="483" width="4" height="6" fill="#fff"/>
<rect x="574" y="489" width="1" height="1" fill="#fff"/>
<rect x="583" y="477" width="1" height="5" fill="#fff"/>
<rect x="581" y="483" width="4" height="6" fill="#fff"/>
<rect x="580" y="489" width="1" height="1" fill="#fff"/>
<rect x="589" y="477" width="2" height="5" fill="#fff"/>
<rect x="587" y="483" width="4" height="6" fill="#fff"/>
<rect x="586" y="489" width="1" height="1" fill="#fff"/>
<rect x="595" y="477" width="1" height="5" fill="#fff"/>
<rect x="593" y="483" width="4" height="6" fill="#fff"/>
<rect x="592" y="489" width="1" height="1" fill="#fff"/>
<rect x="600" y="477" width="2" height="5" fill="#fff"/>
<rect x="598" y="483" width="4" height="6" fill="#fff"/>
<rect x="597" y="489" width="1" height="1" fill="#fff"/>
<rect x="606" y="477" width="1" height="5" fill="#fff"/>
<rect x="604" y="483" width="4" height="6" fill="#fff"/>
<rect x="603" y="489" width="1" height="1" fill="#fff"/>
<rect x="612" y="477" width="2" height="5" fill="#fff"/>
<rect x="610" y="483" width="4" height="6" fill="#fff"/>
<rect x="609" y="489" width="1" height="1" fill="#fff"/>
<rect x="618" y="477" width="1" height="5" fill="#fff"/>
<rect x="616" y="483" width="4" height="6" fill="#fff"/>
<rect x="615" y="489" width="1" height="1" fill="#fff"/>
<rect x="624" y="477" width="2" height="5" fill="#fff"/>
<rect x="622" y="483" width="4" height="6" fill="#fff"/>
<rect x="621" y="489" width="1" height="1" fill="#fff"/>
<rect x="630" y="477" width="1" height="5" fill="#fff"/>
<rect x="628" y="483" width="4" height="6" fill="#fff"/>
<rect x="627" y="489" width="1" height="1" fill="#fff"/>
<rect x="636" y="477" width="2" height="5" fill="#fff"/>
<rect x="634" y="483" width="4" height="6" fill="#fff"/>
<rect x="633" y="489" width="1" height="1" fill="#fff"/>
<rect x="642" y="477" width="1" height="5" fill="#fff"/>
<rect x="640" y="483" width="4" height="6" fill="#fff"/>
<rect x="639" y="489" width="1" height="1" fill="#fff"/>
<rect x="647" y="477" width="2" height="5" fill="#fff"/>
<rect x="645" y="483" width="4" height="6" fill="#fff"/>
<rect x="644" y="489" width="1" height="1" fill="#fff"/>
<rect x="653" y="477" width="1" height="5" fill="#fff"/>
<rect x="651" y="483" width="4" height="6" fill="#fff"/>
<rect x="650" y="489" width="1" height="1" fill="#fff"/>
<rect x="659" y="477" width="2" height="5" fill="#fff"/>
<rect x="657" y="483" width="4" height="6" fill="#fff"/>
<rect x="656" y="489" width="1" height="1" fill="#fff"/>
<rect x="665" y="477" width="1" height="5" fill="#fff"/>
<rect x="663" y="483" width="4" height="6" fill="#fff"/>
<rect x="662" y="489" width="1" height="1" fill="#fff"/>
<rect x="671" y="477" width="2" height="5" fill="#fff"/>
<rect x="669" y="483" width="4" height="6" fill="#fff"/>
<rect x="668" y="489" width="1" height="1" fill="#fff"/>
<rect x="677" y="477" width="1" height="5" fill="#fff"/>
<rect x="675" y="483" width="4" height="6" fill="#fff"/>
<rect x="674" y="489" width="1" height="1" fill="#fff"/>
<rect x="683" y="477" width="2" height="5" fill="#fff"/>
<rect x="681" y="483" width="4" height="6" fill="#fff"/>
<rect x="680" y="489" width="1" height="1" fill="#fff"/>
<rect x="688" y="477" width="1" height="5" fill="#fff"/>
<rect x="686" y="483" width="4" height="6" fill="#fff"/>
<rect x="685" y="489" width="1" height="1" fill="#fff"/>
<rect x="694" y="477" width="2" height="5" fill="#fff"/>
<rect x="692" y="483" width="4" height="6" fill="#fff"/>
<rect x="691" y="489" width="1" height="1" fill="#fff"/>
<rect x="700" y="477" width="1" height="5" fill="#fff"/>
<rect x="698" y="483" width="4" height="6" fill="#fff"/>
<rect x="697" y="489" width="1" height="1" fill="#fff"/>
<rect x="500" y="494" width="226" height="1" fill="#000"/>
<rect x="500" y="512" width="226" height="1" fill="#000"/>
<rect x="500" y="494" width="1" height="19" fill="#000"/>
<rect x="725" y="494" width="1" height="19" fill="#000"/>
<rect x="718" y="501" width="7" height="1" fill="#000"/>
<rect x="718" y="508" width="7" height="1" fill="#000"/>
<rect x="501" y="501" width="6" height="1" fill="#000"/>
<rect x="501" y="508" width="6" height="1" fill="#000"/>
<rect x="507" y="495" width="4" height="16" fill="#000"/>
<rect x="508" y="509" width="1" height="1" fill="#fff"/>
<rect x="507" y="495" width="13" height="1" fill="#000"/>
<rect x="518" y="495" width="1" height="8" fill="#000"/>
<rect x="512" y="499" width="2" height="1" fill="#000"/>
<rect x="518" y="499" width="3" height="1" fill="#000"/>
<rect x="513" y="499" width="1" height="4" fill="#000"/>
<rect x="513" y="502" width="6" height="1" fill="#000"/>
<rect x="512" y="499" width="1" height="11" fill="#000"/>
<rect x="520" y="499" width="1" height="11" fill="#000"/>
<rect x="512" y="509" width="9" height="1" fill="#000"/>
<rect x="718" y="501" width="6" height="1" fill="#000"/>
<rect x="718" y="508" width="6" height="1" fill="#000"/>
<rect x="714" y="495" width="4" height="16" fill="#000"/>
<rect x="705" y="495" width="13" height="1" fill="#000"/>
<rect x="706" y="495" width="1" height="8" fill="#000"/>
<rect x="711" y="499" width="2" height="1" fill="#000"/>
<rect x="704" y="499" width="3" height="1" fill="#000"/>
<rect x="711" y="499" width="1" height="4" fill="#000"/>
<rect x="706" y="502" width="6" height="1" fill="#000"/>
<rect x="712" y="499" width="1" height="11" fill="#000"/>
<rect x="704" y="499" width="1" height="11" fill="#000"/>
<rect x="704" y="509" width="9" height="1" fill="#000"/>
<rect x="508" y="510" width="196" height="1" fill="#000"/>
<rect x="526" y="496" width="174" height="15" fill="#000"/>
<rect x="525" y="502" width="175" height="9" fill="#000"/>
<rect x="530" y="497" width="2" height="5" fill="#fff"/>
<rect x="528" y="503" width="4" height="6" fill="#fff"/>
<rect x="527" y="509" width="1" height="1" fill="#fff"/>
<rect x="536" y="497" width="1" height="5" fill="#fff"/>
<rect x="534" y="503" width="4" height="6" fill="#fff"/>
<rect x="533" y="509" width="1" height="1" fill="#fff"/>
<rect x="542" y="497" width="2" height="5" fill="#fff"/>
<rect x="540" y="503" width="4" height="6" fill="#fff"/>
<rect x="539" y="509" width="1" height="1" fill="#fff"/>
<rect x="548" y="497" width="1" height="5" fill="#fff"/>
<rect x="546" y="503" width="4" height="6" fill="#fff"/>
<rect x="545" y="509" width="1" height="1" fill="#fff"/>
<rect x="553" y="497" width="2" height="5" fill="#fff"/>
<rect x="551" y="503" width="4" height="6" fill="#fff"/>
<rect x="550" y="509" width="1" height="1" fill="#fff"/>
<rect x="559" y="497" width="1" height="5" fill="#fff"/>
<rect x="557" y="503" width="4" height="6" fill="#fff"/>
<rect x="556" y="509" width="1" height="1" fill="#fff"/>
<rect x="565" y="497" width="2" height="5" fill="#fff"/>
<rect x="563" y="503" width="4" height="6" fill="#fff"/>
<rect x="562" y="509" width="1" height="1" fill="#fff"/>
<rect x="571" y="497" width="1" height="5" fill="#fff"/>
<rect x="569" y="503" width="4" height="6" fill="#fff"/>
<rect x="568" y="509" width="1" height="1" fill="#fff"/>
<rect x="577" y="497" width="2" height="5" fill="#fff"/>
<rect x="575" y="503" width="4" height="6" fill="#fff"/>
<rect x="574" y="509" width="1" height="1" fill="#fff"/>
<rect x="583" y="497" width="1" height="5" fill="#fff"/>
<rect x="581" y="503" width="4" height="6" fill="#fff"/>
<rect x="580" y="509" width="1" height="1" fill="#fff"/>
<rect x="589" y="497" width="2" height="5" fill="#fff"/>
<rect x="587" y="503" width="4" height="6" fill="#fff"/>
<rect x="586" y="509" width="1" height="1" fill="#fff"/>
<rect x="595" y="497" width="1" height="5" fill="#fff"/>
<rect x="593" y="503" width="4" height="6" fill="#fff"/>
<rect x="592" y="509" width="1" height="1" fill="#fff"/>
<rect x="600" y="497" width="2" height="5" fill="#fff"/>
<rect x="598" y="503" width="4" height="6" fill="#fff"/>
<rect x="597" y="509" width="1" height="1" fill="#fff"/>
<rect x="606" y="497" width="1" height="5" fill="#fff"/>
<rect x="604" y="503" width="4" height="6" fill="#fff"/>
<rect x="603" y="509" width="1" height="1" fill="#fff"/>
<rect x="612" y="497" width="2" height="5" fill="#fff"/>
<rect x="610" y="503" width="4" height="6" fill="#fff"/>
<rect x="609" y="509" width="1" height="1" fill="#fff"/>
<rect x="618" y="497" width="1" height="5" fill="#fff"/>
<rect x="616" y="503" width="4" height="6" fill="#fff"/>
<rect x="615" y="509" width="1" height="1" fill="#fff"/>
<rect x="624" y="497" width="2" height="5" fill="#fff"/>
<rect x="622" y="503" width="4" height="6" fill="#fff"/>
<rect x="621" y="509" width="1" height="1" fill="#fff"/>
<rect x="630" y="497" width="1" height="5" fill="#fff"/>
<rect x="628" y="503" width="4" height="6" fill="#fff"/>
<rect x="627" y="509" width="1" height="1" fill="#fff"/>
<rect x="636" y="497" width="2" height="5" fill="#fff"/>
<rect x="634" y="503" width="4" height="6" fill="#fff"/>
<rect x="633" y="509" width="1" height="1" fill="#fff"/>
<rect x="642" y="497" width="1" height="5" fill="#fff"/>
<rect x="640" y="503" width="4" height="6" fill="#fff"/>
<rect x="639" y="509" width="1" height="1" fill="#fff"/>
<rect x="647" y="497" width="2" height="5" fill="#fff"/>
<rect x="645" y="503" width="4" height="6" fill="#fff"/>
<rect x="644" y="509" width="1" height="1" fill="#fff"/>
<rect x="653" y="497" width="1" height="5" fill="#fff"/>
<rect x="651" y="503" width="4" height="6" fill="#fff"/>
<rect x="650" y="509" width="1" height="1" fill="#fff"/>
<rect x="659" y="497" width="2" height="5" fill="#fff"/>
<rect x="657" y="503" width="4" height="6" fill="#fff"/>
<rect x="656" y="509" width="1" height="1" fill="#fff"/>
<rect x="665" y="497" width="1" height="5" fill="#fff"/>
<rect x="663" y="503" width="4" height="6" fill="#fff"/>
<rect x="662" y="509" width="1" height="1" fill="#fff"/>
<rect x="671" y="497" width="2" height="5" fill="#fff"/>
<rect x="669" y="503" width="4" height="6" fill="#fff"/>
<rect x="668" y="509" width="1" height="1" fill="#fff"/>
<rect x="677" y="497" width="1" height="5" fill="#fff"/>
<rect x="675" y="503" width="4" height="6" fill="#fff"/>
<rect x="674" y="509" width="1" height="1" fill="#fff"/>
<rect x="683" y="497" width="2" height="5" fill="#fff"/>
<rect x="681" y="503" width="4" height="6" fill="#fff"/>
<rect x="680" y="509" width="1" height="1" fill="#fff"/>
<rect x="688" y="497" width="1" height="5" fill="#fff"/>
<rect x="686" y="503" width="4" height="6" fill="#fff"/>
<rect x="685" y="509" width="1" height="1" fill="#fff"/>
<rect x="694" y="497" width="2" height="5" fill="#fff"/>
<rect x="692" y="503" width="4" height="6" fill="#fff"/>
<rect x="691" y="509" width="1" height="1" fill="#fff"/>
<rect x="700" y="497" width="1" height="5" fill="#fff"/>
<rect x="698" y="503" width="4" height="6" fill="#fff"/>
<rect x="697" y="509" width="1" height="1" fill="#fff"/>
<rect x="584" y="385" width="58" height="16" fill="#000"/>
<rect x="586" y="386" width="54" height="14" fill="#fff"/>
<rect x="585" y="387" width="56" height="12" fill="#fff"/>
<rect x="584" y="465" width="58" height="16" fill="#000"/>
<rect x="586" y="466" width="54" height="14" fill="#fff"/>
<rect x="585" y="467" width="56" height="12" fill="#fff"/>
<rect x="741" y="385" width="24" height="113" fill="#000"/>
<rect x="742" y="386" width="22" height="111" fill="#fff"/>
<rect x="745" y="385" width="5" height="3" fill="#fff"/>
<rect x="744" y="385" width="1" height="4" fill="#000"/>
<rect x="750" y="385" width="1" height="4" fill="#000"/>
<rect x="744" y="388" width="7" height="1" fill="#000"/>
<rect x="746" y="386" width="2" height="1" fill="#000"/>
<rect x="745" y="494" width="5" height="3" fill="#fff"/>
<rect x="744" y="493" width="1" height="4" fill="#000"/>
<rect x="750" y="493" width="1" height="4" fill="#000"/>
<rect x="744" y="493" width="7" height="1" fill="#000"/>
<rect x="756" y="386" width="1" height="111" fill="#000"/>
<rect x="744" y="391" width="7" height="8" fill="#000"/>
<rect x="745" y="392" width="5" height="6" fill="#fff"/>
<rect x="752" y="387" width="3" height="8" fill="#000"/>
<rect x="759" y="387" width="2" height="8" fill="#000"/>
<rect x="757" y="389" width="5" height="4" fill="#000"/>
<rect x="744" y="400" width="7" height="8" fill="#000"/>
<rect x="745" y="401" width="5" height="6" fill="#fff"/>
<rect x="752" y="396" width="3" height="8" fill="#000"/>
<rect x="759" y="396" width="2" height="8" fill="#000"/>
<rect x="757" y="398" width="5" height="4" fill="#000"/>
<rect x="744" y="410" width="7" height="8" fill="#000"/>
<rect x="745" y="411" width="5" height="6" fill="#fff"/>
<rect x="752" y="406" width="3" height="8" fill="#000"/>
<rect x="759" y="406" width="2" height="8" fill="#000"/>
<rect x="757" y="408" width="5" height="4" fill="#000"/>
<rect x="744" y="419" width="7" height="8" fill="#000"/>
<rect x="745" y="420" width="5" height="6" fill="#fff"/>
<rect x="752" y="415" width="3" height="8" fill="#000"/>
<rect x="759" y="415" width="2" height="8" fill="#000"/>
<rect x="757" y="417" width="5" height="4" fill="#000"/>
<rect x="744" y="429" width="7" height="8" fill="#000"/>
<rect x="745" y="430" width="5" height="6" fill="#fff"/>
<rect x="752" y="425" width="3" height="8" fill="#000"/>
<rect x="759" y="425" width="2" height="8" fill="#000"/>
<rect x="757" y="427" width="5" height="4" fill="#000"/>
<rect x="744" y="438" width="7" height="8" fill="#000"/>
<rect x="745" y="439" width="5" height="6" fill="#fff"/>
<rect x="752" y="434" width="3" height="8" fill="#000"/>
<rect x="759" y="434" width="2" height="8" fill="#000"/>
<rect x="757" y="436" width="5" height="4" fill="#000"/>
<rect x="744" y="448" width="7" height="8" fill="#000"/>
<rect x="745" y="449" width="5" height="6" fill="#fff"/>
<rect x="752" y="444" width="3" height="8" fill="#000"/>
<rect x="759" y="444" width="2" height="8" fill="#000"/>
<rect x="757" y="446" width="5" height="4" fill="#000"/>
<rect x="744" y="457" width="7" height="8" fill="#000"/>
<rect x="745" y="458" width="5" height="6" fill="#fff"/>
<rect x="752" y="453" width="3" height="8" fill="#000"/>
<rect x="759" y="453" width="2" height="8" fill="#000"/>
<rect x="757" y="455" width="5" height="4" fill="#000"/>
<rect x="744" y="467" width="7" height="8" fill="#000"/>
<rect x="745" y="468" width="5" height="6" fill="#fff"/>
<rect x="752" y="463" width="3" height="8" fill="#000"/>
<rect x="759" y="463" width="2" height="8" fill="#000"/>
<rect x="757" y="465" width="5" height="4" fill="#000"/>
<rect x="744" y="476" width="7" height="8" fill="#000"/>
<rect x="745" y="477" width="5" height="6" fill="#fff"/>
<rect x="752" y="472" width="3" height="8" fill="#000"/>
<rect x="759" y="472" width="2" height="8" fill="#000"/>
<rect x="757" y="474" width="5" height="4" fill="#000"/>
<rect x="744" y="486" width="7" height="8" fill="#000"/>
<rect x="745" y="487" width="5" height="6" fill="#fff"/>
<rect x="752" y="482" width="3" height="8" fill="#000"/>
<rect x="759" y="482" width="2" height="8" fill="#000"/>
<rect x="757" y="484" width="5" height="4" fill="#000"/>
<rect x="778" y="420" width="30" height="37" fill="#000"/>
<rect x="775" y="427" width="3" height="24" fill="#000"/>
<rect x="802" y="416" width="6" height="46" fill="#000"/>
<rect x="805" y="413" width="3" height="52" fill="#000"/>
<rect x="771" y="429" width="5" height="9" fill="#000"/>
<rect x="772" y="430" width="3" height="7" fill="#fff"/>
<rect x="771" y="440" width="5" height="9" fill="#000"/>
<rect x="772" y="441" width="3" height="7" fill="#fff"/>
<rect x="776" y="436" width="2" height="5" fill="#fff"/>
<g filter="url(#th)"><text transform="translate(643,53) scale(0.850,1.3)" font-size="10.06" textLength="50.35" lengthAdjust="spacing" fill="#000">MH2478</text>
<text transform="translate(328,29) scale(0.850,1.3)" font-size="10.06" textLength="25.65" lengthAdjust="spacing" fill="#000">SL1</text>
<text transform="translate(328,75) scale(0.850,1.3)" font-size="10.06" textLength="25.65" lengthAdjust="spacing" fill="#000">SL2</text>
<text transform="translate(126,40) scale(0.850,1.3)" font-size="11.18" textLength="29.18" lengthAdjust="spacing" fill="#000">KBD</text>
<text transform="translate(104,89) scale(0.850,1.3)" font-size="11.18" textLength="35.06" lengthAdjust="spacing" fill="#000">BIOS</text>
<text transform="translate(17,53) scale(0.850,1.3)" font-size="10.06" textLength="15.06" lengthAdjust="spacing" fill="#000">J3</text>
<text transform="translate(17,77) scale(0.850,1.3)" font-size="11.18" textLength="15.06" lengthAdjust="spacing" fill="#000">J4</text>
<text transform="translate(16,105) scale(0.850,1.3)" font-size="10.06" textLength="15.06" lengthAdjust="spacing" fill="#000">J5</text>
<text transform="translate(16,128) scale(0.850,1.3)" font-size="10.06" textLength="15.06" lengthAdjust="spacing" fill="#000">J6</text>
<text transform="translate(17,168) scale(0.850,1.3)" font-size="11.18" textLength="15.06" lengthAdjust="spacing" fill="#000">J7</text>
<text transform="translate(196,28) scale(0.850,1.3)" font-size="10.06" textLength="25.65" lengthAdjust="spacing" fill="#000">JP5</text>
<text transform="translate(197,74) scale(0.850,1.3)" font-size="10.06" textLength="24.47" lengthAdjust="spacing" fill="#000">JP6</text>
<text transform="translate(180,119) scale(0.850,1.3)" font-size="10.06" textLength="35.06" lengthAdjust="spacing" fill="#000">JP14</text>
<text transform="translate(123,234) scale(0.850,1.3)" font-size="11.18" textLength="30.35" lengthAdjust="spacing" fill="#000">CPU</text>
<text transform="translate(225,199) scale(0.850,1.3)" font-size="11.18" textLength="24.47" lengthAdjust="spacing" fill="#000">JP8</text>
<text transform="translate(225,235) scale(0.850,1.3)" font-size="11.18" textLength="25.65" lengthAdjust="spacing" fill="#000">JP9</text>
<text transform="translate(122,443) scale(0.850,1.3)" font-size="11.18" textLength="50.35" lengthAdjust="spacing" fill="#000">CACHE</text>
<text transform="translate(254,456) scale(0.850,1.3)" font-size="11.18" textLength="26.82" lengthAdjust="spacing" fill="#000">TAG</text>
<text transform="translate(115,359) scale(0.850,1.3)" font-size="11.18" textLength="35.06" lengthAdjust="spacing" fill="#000">JP10</text>
<text transform="translate(97,381) scale(0.850,1.3)" font-size="11.18" textLength="33.88" lengthAdjust="spacing" fill="#000">JP11</text>
<text transform="translate(265,380) scale(0.850,1.3)" font-size="10.06" textLength="25.65" lengthAdjust="spacing" fill="#000">JP3</text>
<text transform="translate(275,402) scale(0.850,1.3)" font-size="11.18" textLength="24.47" lengthAdjust="spacing" fill="#000">JP4</text>
<text transform="translate(120,506) scale(0.850,1.3)" font-size="11.18" textLength="33.88" lengthAdjust="spacing" fill="#000">JP13</text>
<text transform="translate(248,506) scale(0.850,1.3)" font-size="11.18" textLength="33.88" lengthAdjust="spacing" fill="#000">JP12</text>
<text transform="translate(590,397) scale(0.850,1.3)" font-size="11.18" textLength="55.06" lengthAdjust="spacing" fill="#000">BANK 0</text>
<text transform="translate(590,477) scale(0.850,1.3)" font-size="11.18" textLength="55.06" lengthAdjust="spacing" fill="#000">BANK 1</text></g>
<g filter="url(#th2)"><text transform="translate(95,414) scale(0.850,1.3)" font-size="10.06" textLength="8.00" lengthAdjust="spacing" fill="#000">B</text>
<text transform="translate(95,429) scale(0.850,1.3)" font-size="10.06" textLength="8.00" lengthAdjust="spacing" fill="#000">A</text>
<text transform="translate(95,444) scale(0.850,1.3)" font-size="10.06" textLength="8.00" lengthAdjust="spacing" fill="#000">N</text>
<text transform="translate(95,458) scale(0.850,1.3)" font-size="10.06" textLength="8.00" lengthAdjust="spacing" fill="#000">K</text>
<text transform="translate(95,473) scale(0.850,1.3)" font-size="10.06" textLength="8.00" lengthAdjust="spacing" fill="#000">1</text>
<text transform="translate(185,414) scale(0.850,1.3)" font-size="10.06" textLength="8.00" lengthAdjust="spacing" fill="#000">B</text>
<text transform="translate(185,429) scale(0.850,1.3)" font-size="10.06" textLength="8.00" lengthAdjust="spacing" fill="#000">A</text>
<text transform="translate(185,444) scale(0.850,1.3)" font-size="10.06" textLength="8.00" lengthAdjust="spacing" fill="#000">N</text>
<text transform="translate(185,458) scale(0.850,1.3)" font-size="10.06" textLength="8.00" lengthAdjust="spacing" fill="#000">K</text>
<text transform="translate(185,473) scale(0.850,1.3)" font-size="10.06" textLength="8.00" lengthAdjust="spacing" fill="#000">0</text></g>
</svg>
</body></html>
